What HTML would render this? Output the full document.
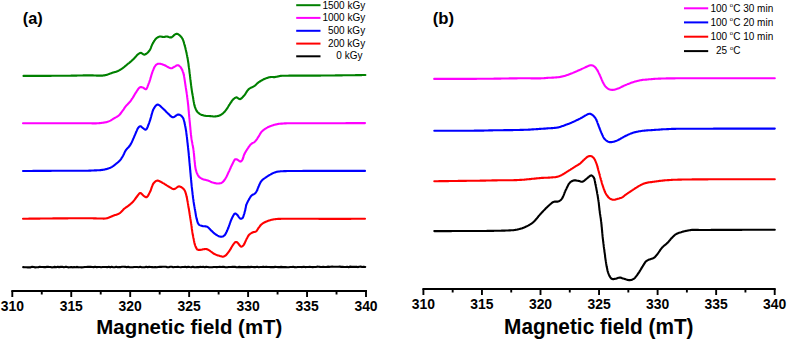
<!DOCTYPE html>
<html><head><meta charset="utf-8"><style>
html,body{margin:0;padding:0;background:#fff;}
body{width:787px;height:340px;overflow:hidden;}
svg{display:block;}
text{font-family:"Liberation Sans",sans-serif;}
</style></head><body>
<svg width="787" height="340" viewBox="0 0 787 340">
<rect width="787" height="340" fill="#fff"/>
<g fill="none" stroke-linejoin="round" stroke-linecap="round" stroke-width="2.1">
<path stroke="#000" d="M23.2,267.17 L24.7,267.24 L26.2,267.28 L27.7,267.36 L29.2,267.24 L30.7,267.35 L32.2,266.81 L33.7,267.07 L35.2,267.36 L36.7,267.18 L38.2,267.33 L39.7,266.86 L41.2,267.07 L42.7,266.94 L44.2,267.11 L45.7,267.13 L47.2,266.79 L48.7,266.92 L50.2,266.95 L51.7,267.33 L53.2,267.24 L54.7,266.88 L56.2,267.26 L57.7,266.86 L59.2,267.15 L60.7,266.85 L62.2,266.78 L63.7,267.30 L65.2,266.90 L66.7,266.90 L68.2,267.36 L69.7,267.30 L71.2,266.95 L72.7,267.35 L74.2,267.09 L75.7,267.18 L77.2,266.89 L78.7,267.33 L80.2,267.18 L81.7,267.35 L83.2,267.30 L84.7,266.94 L86.2,266.98 L87.7,266.86 L89.2,266.85 L90.7,266.80 L92.2,266.94 L93.7,267.12 L95.2,266.76 L96.7,267.16 L98.2,266.96 L99.7,266.94 L101.2,267.25 L102.7,267.04 L104.2,266.94 L105.7,267.04 L107.2,267.17 L108.7,266.78 L110.2,267.33 L111.7,266.76 L113.2,267.20 L114.7,267.25 L116.2,266.76 L117.7,267.22 L119.2,266.96 L120.7,267.09 L122.2,266.75 L123.7,266.77 L125.2,266.85 L126.7,267.31 L128.2,266.86 L129.7,267.19 L131.2,267.29 L132.7,267.30 L134.2,266.94 L135.7,266.95 L137.2,267.05 L138.7,267.20 L140.2,266.80 L141.7,267.18 L143.2,267.21 L144.7,267.24 L146.2,266.75 L147.7,267.29 L149.2,266.78 L150.7,266.93 L152.2,267.09 L153.7,267.27 L155.2,266.93 L156.7,267.28 L158.2,267.05 L159.7,266.91 L161.2,266.91 L162.7,266.82 L164.2,266.76 L165.7,266.81 L167.2,267.13 L168.7,267.31 L170.2,266.81 L171.7,266.74 L173.2,267.30 L174.7,267.03 L176.2,266.95 L177.7,266.85 L179.2,267.07 L180.7,267.20 L182.2,266.98 L183.7,266.96 L185.2,266.74 L186.7,267.25 L188.2,266.72 L189.7,267.00 L191.2,267.20 L192.7,266.78 L194.2,267.14 L195.7,267.27 L197.2,267.08 L198.7,267.17 L200.2,266.76 L201.7,266.96 L203.2,266.78 L204.7,267.20 L206.2,266.87 L207.7,266.96 L209.2,267.29 L210.7,267.20 L212.2,267.28 L213.7,266.96 L215.2,266.98 L216.7,267.12 L218.2,266.97 L219.7,266.86 L221.2,266.93 L222.7,266.77 L224.2,266.91 L225.7,267.27 L227.2,267.26 L228.7,267.06 L230.2,266.98 L231.7,266.88 L233.2,266.73 L234.7,266.84 L236.2,267.14 L237.7,267.20 L239.2,266.89 L240.7,267.14 L242.2,267.14 L243.7,267.09 L245.2,267.07 L246.7,267.13 L248.2,266.89 L249.7,267.09 L251.2,266.84 L252.7,266.96 L254.2,267.13 L255.7,267.08 L257.2,266.84 L258.7,267.23 L260.2,267.05 L261.7,267.01 L263.2,266.67 L264.7,266.99 L266.2,266.81 L267.7,267.06 L269.2,266.93 L270.7,267.15 L272.2,267.04 L273.7,267.13 L275.2,266.86 L276.7,267.04 L278.2,267.09 L279.7,267.15 L281.2,266.86 L282.7,267.15 L284.2,267.17 L285.7,267.06 L287.2,267.23 L288.7,267.22 L290.2,266.95 L291.7,266.96 L293.2,266.74 L294.7,267.14 L296.2,267.20 L297.7,266.93 L299.2,267.05 L300.7,267.07 L302.2,267.08 L303.7,266.74 L305.2,267.10 L306.7,266.98 L308.2,267.03 L309.7,266.89 L311.2,267.01 L312.7,267.10 L314.2,267.01 L315.7,267.06 L317.2,266.64 L318.7,266.72 L320.2,266.89 L321.7,267.02 L323.2,266.76 L324.7,267.04 L326.2,267.00 L327.7,266.65 L329.2,266.90 L330.7,266.76 L332.2,266.65 L333.7,266.70 L335.2,266.81 L336.7,266.73 L338.2,266.73 L339.7,266.64 L341.2,266.89 L342.7,266.84 L344.2,266.98 L345.7,266.97 L347.2,266.75 L348.7,267.15 L350.2,266.61 L351.7,266.85 L353.2,266.77 L354.7,266.85 L356.2,266.67 L357.7,267.10 L359.2,266.83 L360.7,266.62 L362.2,266.97 L363.7,266.66 L365.2,266.93"/>
<path stroke="#ff0000" d="M23.0,218.7 L23.7,218.7 L24.3,218.7 L25.0,218.7 L25.7,218.7 L26.3,218.7 L27.0,218.7 L27.7,218.7 L28.3,218.7 L29.0,218.6 L29.7,218.6 L30.3,218.6 L31.0,218.6 L31.7,218.6 L32.3,218.6 L33.0,218.6 L33.7,218.6 L34.4,218.6 L35.0,218.6 L35.7,218.6 L36.4,218.6 L37.0,218.6 L37.7,218.6 L38.4,218.6 L39.1,218.6 L39.7,218.6 L40.4,218.5 L41.1,218.5 L41.7,218.5 L42.4,218.5 L43.1,218.5 L43.7,218.5 L44.4,218.5 L45.1,218.5 L45.7,218.5 L46.4,218.5 L47.1,218.5 L47.7,218.5 L48.4,218.5 L49.1,218.5 L49.7,218.5 L50.4,218.5 L51.0,218.5 L51.7,218.5 L52.3,218.5 L53.0,218.4 L53.6,218.4 L54.3,218.4 L54.9,218.4 L55.6,218.4 L56.2,218.4 L56.8,218.4 L57.5,218.4 L58.1,218.4 L58.7,218.4 L59.4,218.4 L60.0,218.4 L60.7,218.4 L61.4,218.4 L62.1,218.4 L62.8,218.4 L63.5,218.4 L64.2,218.4 L64.9,218.4 L65.6,218.4 L66.3,218.4 L67.0,218.4 L67.7,218.4 L68.5,218.3 L69.2,218.3 L69.9,218.3 L70.6,218.3 L71.3,218.3 L72.0,218.3 L72.7,218.3 L73.4,218.3 L74.1,218.3 L74.8,218.3 L75.5,218.3 L76.2,218.3 L76.9,218.3 L77.6,218.3 L78.2,218.3 L78.9,218.3 L79.6,218.3 L80.2,218.3 L80.9,218.3 L81.5,218.3 L82.2,218.3 L82.8,218.3 L83.4,218.3 L84.0,218.3 L84.6,218.3 L85.2,218.3 L85.8,218.3 L86.3,218.3 L86.9,218.3 L87.4,218.3 L88.0,218.3 L88.5,218.3 L89.0,218.3 L89.5,218.3 L90.0,218.3 L90.8,218.3 L91.5,218.3 L92.2,218.3 L92.9,218.3 L93.6,218.4 L94.2,218.4 L94.9,218.4 L95.5,218.4 L96.1,218.4 L96.6,218.5 L97.2,218.5 L97.8,218.5 L98.3,218.5 L98.9,218.5 L99.4,218.5 L100.0,218.5 L100.7,218.5 L101.4,218.5 L102.1,218.5 L102.7,218.5 L103.4,218.6 L104.0,218.6 L104.7,218.5 L105.3,218.5 L106.0,218.4 L106.6,218.3 L107.2,218.2 L107.8,218.0 L108.4,217.8 L109.0,217.6 L109.6,217.3 L110.2,217.1 L110.8,216.8 L111.4,216.6 L112.0,216.3 L112.6,216.0 L113.2,215.8 L113.8,215.6 L114.4,215.3 L115.0,215.1 L115.7,214.9 L116.3,214.7 L116.9,214.5 L117.5,214.2 L118.1,214.0 L118.7,213.7 L119.3,213.4 L119.8,213.1 L120.3,212.7 L120.8,212.3 L121.3,211.8 L121.8,211.3 L122.3,210.8 L122.7,210.3 L123.1,209.8 L123.6,209.4 L124.0,208.9 L124.5,208.5 L125.0,208.1 L125.5,207.8 L126.0,207.4 L126.4,207.1 L126.9,206.8 L127.4,206.5 L127.9,206.2 L128.4,205.8 L128.9,205.4 L129.3,205.0 L129.8,204.7 L130.3,204.2 L130.8,203.8 L131.3,203.4 L131.7,203.0 L132.2,202.5 L132.7,202.1 L133.1,201.6 L133.5,201.1 L133.9,200.6 L134.3,200.1 L134.7,199.6 L135.1,199.0 L135.5,198.5 L135.9,198.0 L136.2,197.5 L136.6,197.0 L137.0,196.5 L137.4,196.0 L137.8,195.4 L138.2,194.8 L138.6,194.3 L139.0,193.8 L139.5,193.4 L139.9,193.1 L140.3,193.0 L140.8,193.1 L141.3,193.4 L141.8,193.9 L142.3,194.4 L142.8,195.0 L143.3,195.5 L143.8,195.9 L144.4,196.3 L144.9,196.7 L145.4,197.0 L146.0,197.2 L146.5,197.2 L146.9,197.0 L147.2,196.7 L147.6,196.3 L148.0,195.8 L148.3,195.2 L148.7,194.6 L149.0,193.9 L149.3,193.2 L149.7,192.5 L150.0,191.9 L150.3,191.4 L150.5,190.8 L150.8,190.2 L151.0,189.5 L151.2,188.9 L151.5,188.2 L151.7,187.5 L151.9,186.9 L152.2,186.2 L152.4,185.6 L152.7,185.0 L152.9,184.4 L153.2,183.9 L153.5,183.4 L153.8,183.0 L154.3,182.5 L154.7,182.0 L155.2,181.6 L155.8,181.2 L156.3,180.9 L156.8,180.7 L157.4,180.6 L157.9,180.6 L158.4,180.7 L159.0,180.9 L159.6,181.2 L160.1,181.5 L160.7,181.8 L161.3,182.1 L161.9,182.5 L162.5,182.8 L163.0,183.1 L163.6,183.4 L164.1,183.7 L164.7,184.1 L165.2,184.4 L165.8,184.8 L166.4,185.1 L166.9,185.5 L167.5,185.9 L168.1,186.2 L168.6,186.5 L169.1,186.8 L169.6,187.1 L170.2,187.5 L170.9,187.9 L171.4,188.2 L172.0,188.6 L172.6,188.9 L173.2,189.0 L173.8,189.1 L174.4,189.0 L175.0,188.7 L175.6,188.4 L176.2,188.0 L176.8,187.5 L177.4,187.1 L178.0,186.7 L178.5,186.5 L179.1,186.4 L179.7,186.5 L180.3,186.7 L181.0,187.0 L181.6,187.3 L182.1,187.7 L182.6,188.1 L183.1,188.5 L183.5,188.9 L183.9,189.3 L184.2,189.7 L184.5,190.2 L184.8,190.7 L185.0,191.2 L185.2,191.7 L185.4,192.2 L185.6,192.8 L185.8,193.4 L186.0,194.0 L186.1,194.6 L186.3,195.2 L186.4,195.9 L186.6,196.5 L186.7,197.1 L186.9,197.7 L187.0,198.3 L187.1,198.9 L187.2,199.5 L187.3,200.1 L187.4,200.8 L187.6,201.4 L187.7,202.0 L187.8,202.7 L187.9,203.3 L188.0,204.0 L188.1,204.6 L188.2,205.2 L188.3,205.9 L188.4,206.5 L188.5,207.1 L188.6,207.8 L188.8,208.4 L188.9,209.1 L189.0,209.8 L189.1,210.4 L189.2,211.1 L189.3,211.7 L189.4,212.4 L189.5,213.1 L189.6,213.7 L189.7,214.3 L189.8,215.0 L189.9,215.6 L190.0,216.2 L190.1,216.9 L190.2,217.5 L190.3,218.2 L190.4,218.8 L190.5,219.4 L190.6,220.1 L190.7,220.7 L190.8,221.3 L190.9,221.9 L191.0,222.6 L191.1,223.2 L191.2,223.9 L191.3,224.5 L191.4,225.2 L191.5,225.8 L191.6,226.5 L191.7,227.2 L191.7,227.8 L191.8,228.5 L191.9,229.1 L192.0,229.8 L192.1,230.4 L192.2,231.0 L192.3,231.7 L192.4,232.3 L192.5,233.0 L192.6,233.6 L192.7,234.3 L192.8,234.9 L193.0,235.5 L193.1,236.2 L193.2,236.8 L193.3,237.4 L193.4,238.0 L193.6,238.6 L193.7,239.2 L193.8,239.8 L193.9,240.5 L194.1,241.1 L194.2,241.8 L194.3,242.5 L194.5,243.1 L194.6,243.7 L194.8,244.3 L195.0,244.9 L195.2,245.5 L195.4,246.1 L195.7,246.7 L195.9,247.3 L196.2,247.9 L196.5,248.4 L196.8,248.9 L197.1,249.3 L197.5,249.6 L198.0,249.8 L198.6,249.9 L199.1,250.0 L199.7,249.9 L200.3,249.9 L200.9,249.8 L201.4,249.7 L202.0,249.6 L202.6,249.4 L203.2,249.3 L203.8,249.2 L204.5,249.1 L205.2,249.0 L205.8,249.0 L206.5,249.1 L207.1,249.2 L207.6,249.5 L208.2,249.7 L208.7,250.0 L209.3,250.4 L209.8,250.7 L210.3,251.1 L210.8,251.5 L211.4,251.9 L211.9,252.3 L212.4,252.7 L213.0,253.1 L213.5,253.5 L214.0,253.8 L214.6,254.1 L215.1,254.3 L215.7,254.6 L216.2,254.8 L216.8,255.0 L217.3,255.2 L217.9,255.4 L218.6,255.6 L219.2,255.8 L219.8,256.0 L220.4,256.2 L221.0,256.3 L221.6,256.4 L222.2,256.6 L222.8,256.7 L223.4,256.6 L224.0,256.4 L224.5,256.1 L225.1,255.8 L225.7,255.4 L226.2,254.9 L226.6,254.5 L227.0,254.1 L227.3,253.7 L227.7,253.2 L228.1,252.7 L228.5,252.2 L228.8,251.7 L229.2,251.2 L229.5,250.7 L229.8,250.2 L230.2,249.7 L230.5,249.1 L230.8,248.6 L231.1,248.1 L231.4,247.5 L231.7,247.0 L232.0,246.5 L232.3,246.0 L232.6,245.5 L233.0,244.9 L233.4,244.3 L233.7,243.8 L234.1,243.3 L234.5,242.8 L234.8,242.4 L235.2,242.2 L235.8,242.0 L236.4,242.0 L237.0,242.2 L237.4,242.5 L237.8,242.9 L238.2,243.4 L238.6,244.0 L239.0,244.5 L239.4,245.0 L239.9,245.5 L240.3,246.1 L240.8,246.5 L241.3,246.7 L241.7,246.6 L242.2,246.4 L242.7,246.0 L243.2,245.5 L243.6,245.0 L243.9,244.6 L244.2,244.1 L244.5,243.6 L244.8,243.0 L245.0,242.4 L245.3,241.8 L245.6,241.2 L245.8,240.5 L246.1,240.0 L246.4,239.4 L246.7,238.8 L247.0,238.3 L247.3,237.7 L247.6,237.1 L247.9,236.5 L248.2,236.0 L248.6,235.5 L248.9,235.0 L249.3,234.6 L249.8,234.2 L250.3,233.8 L250.8,233.4 L251.4,233.1 L251.9,232.8 L252.5,232.5 L253.0,232.3 L253.6,232.1 L254.2,232.0 L254.9,231.9 L255.4,231.7 L256.0,231.4 L256.4,231.1 L256.8,230.7 L257.1,230.2 L257.4,229.7 L257.8,229.1 L258.1,228.6 L258.4,228.1 L258.8,227.6 L259.2,227.1 L259.6,226.6 L260.0,226.0 L260.4,225.5 L260.8,225.0 L261.3,224.5 L261.8,224.1 L262.2,223.8 L262.7,223.4 L263.2,223.1 L263.7,222.8 L264.2,222.5 L264.8,222.3 L265.3,222.0 L265.9,221.7 L266.5,221.5 L267.1,221.3 L267.7,221.0 L268.3,220.8 L268.9,220.6 L269.5,220.4 L270.1,220.2 L270.8,220.0 L271.5,219.8 L272.1,219.7 L272.8,219.5 L273.5,219.4 L274.1,219.3 L274.6,219.2 L275.2,219.2 L275.7,219.1 L276.3,219.0 L276.8,219.0 L277.4,219.0 L277.9,218.9 L278.5,218.9 L279.2,218.9 L279.8,218.9 L280.5,218.9 L281.3,218.8 L282.1,218.8 L282.9,218.8 L283.3,218.8 L283.8,218.8 L284.2,218.8 L284.7,218.8 L285.1,218.7 L285.6,218.7 L286.1,218.7 L286.6,218.7 L287.2,218.7 L287.7,218.7 L288.3,218.7 L288.8,218.7 L289.4,218.7 L290.0,218.7 L290.6,218.7 L291.2,218.7 L291.8,218.7 L292.5,218.7 L293.1,218.7 L293.7,218.7 L294.4,218.7 L295.1,218.7 L295.7,218.7 L296.4,218.7 L297.1,218.7 L297.8,218.7 L298.5,218.7 L299.2,218.7 L299.9,218.7 L300.6,218.7 L301.3,218.7 L302.1,218.7 L302.8,218.7 L303.5,218.7 L304.3,218.7 L305.0,218.7 L305.7,218.7 L306.5,218.8 L307.2,218.8 L308.0,218.8 L308.7,218.8 L309.5,218.8 L310.2,218.8 L311.0,218.8 L311.7,218.8 L312.5,218.8 L313.2,218.8 L314.0,218.8 L314.7,218.8 L315.5,218.8 L316.2,218.8 L317.0,218.8 L317.7,218.8 L318.4,218.8 L319.1,218.9 L319.9,218.9 L320.6,218.9 L321.3,218.9 L322.0,218.9 L322.7,218.9 L323.4,218.9 L324.1,218.9 L324.8,218.9 L325.5,218.9 L326.1,218.9 L326.8,218.9 L327.5,218.9 L328.1,218.9 L328.8,218.9 L329.4,218.9 L330.0,218.9 L330.7,218.9 L331.4,218.9 L332.1,218.9 L332.8,218.9 L333.5,218.9 L334.2,218.9 L334.9,218.9 L335.6,218.9 L336.2,218.9 L336.9,218.9 L337.6,218.9 L338.3,218.9 L338.9,218.9 L339.6,218.9 L340.3,218.9 L340.9,218.9 L341.6,218.9 L342.3,218.9 L342.9,218.9 L343.6,218.9 L344.2,218.9 L344.9,218.9 L345.5,218.9 L346.2,218.9 L346.9,218.9 L347.5,218.9 L348.1,218.9 L348.8,218.9 L349.4,218.9 L350.1,218.9 L350.7,218.9 L351.4,218.8 L352.0,218.8 L352.7,218.8 L353.3,218.8 L354.0,218.8 L354.6,218.8 L355.2,218.8 L355.9,218.8 L356.5,218.8 L357.2,218.8 L357.8,218.8 L358.5,218.8 L359.1,218.8 L359.8,218.8 L360.4,218.8 L361.1,218.8 L361.7,218.8 L362.4,218.8 L363.0,218.8 L363.7,218.8 L364.3,218.8 L365.0,218.8"/>
<path stroke="#0000ff" d="M23.0,171.0 L23.7,171.0 L24.3,171.0 L25.0,171.0 L25.7,171.0 L26.3,171.0 L27.0,171.0 L27.7,171.0 L28.3,171.0 L29.0,171.0 L29.7,171.0 L30.3,171.0 L31.0,171.0 L31.7,171.0 L32.3,171.0 L33.0,170.9 L33.7,170.9 L34.4,170.9 L35.0,170.9 L35.7,170.9 L36.4,170.9 L37.0,170.9 L37.7,170.9 L38.4,170.9 L39.1,170.9 L39.7,170.9 L40.4,170.9 L41.1,170.9 L41.7,170.9 L42.4,170.9 L43.1,170.9 L43.7,170.9 L44.4,170.9 L45.1,170.9 L45.7,170.9 L46.4,170.9 L47.1,170.9 L47.7,170.9 L48.4,170.9 L49.1,170.9 L49.7,170.9 L50.4,170.9 L51.0,170.9 L51.7,170.8 L52.3,170.8 L53.0,170.8 L53.6,170.8 L54.3,170.8 L54.9,170.8 L55.6,170.8 L56.2,170.8 L56.8,170.8 L57.5,170.8 L58.1,170.8 L58.7,170.8 L59.4,170.8 L60.0,170.8 L60.7,170.8 L61.4,170.8 L62.1,170.8 L62.8,170.8 L63.5,170.8 L64.2,170.8 L64.8,170.8 L65.5,170.8 L66.2,170.8 L66.9,170.8 L67.6,170.8 L68.3,170.8 L69.0,170.8 L69.7,170.8 L70.4,170.8 L71.1,170.8 L71.8,170.8 L72.5,170.8 L73.2,170.8 L73.9,170.8 L74.5,170.8 L75.2,170.8 L75.9,170.8 L76.6,170.8 L77.2,170.8 L77.9,170.8 L78.6,170.8 L79.2,170.8 L79.9,170.8 L80.5,170.8 L81.2,170.8 L81.8,170.8 L82.4,170.8 L83.1,170.8 L83.7,170.8 L84.3,170.7 L84.9,170.7 L85.5,170.7 L86.1,170.7 L86.7,170.7 L87.2,170.7 L87.8,170.7 L88.4,170.7 L88.9,170.6 L89.5,170.6 L90.0,170.6 L90.8,170.6 L91.5,170.5 L92.2,170.5 L93.0,170.5 L93.7,170.5 L94.4,170.4 L95.1,170.4 L95.7,170.4 L96.4,170.4 L97.1,170.3 L97.7,170.3 L98.3,170.3 L99.0,170.2 L99.6,170.2 L100.2,170.1 L100.8,170.1 L101.4,170.0 L101.9,169.9 L102.5,169.9 L103.0,169.8 L103.6,169.7 L104.1,169.6 L104.8,169.5 L105.5,169.3 L106.2,169.1 L106.9,169.0 L107.5,168.8 L108.1,168.6 L108.7,168.4 L109.3,168.1 L109.9,167.9 L110.4,167.7 L111.0,167.4 L111.6,167.1 L112.1,166.8 L112.6,166.4 L113.2,166.1 L113.7,165.7 L114.1,165.4 L114.6,165.0 L115.1,164.6 L115.6,164.2 L116.1,163.8 L116.6,163.4 L117.1,163.0 L117.7,162.5 L118.2,162.1 L118.6,161.7 L119.1,161.2 L119.6,160.8 L120.0,160.3 L120.4,159.8 L120.8,159.3 L121.2,158.8 L121.5,158.2 L121.9,157.7 L122.2,157.1 L122.6,156.6 L122.9,156.0 L123.2,155.5 L123.5,154.9 L123.8,154.3 L124.1,153.7 L124.3,153.1 L124.6,152.5 L124.9,151.9 L125.2,151.3 L125.5,150.8 L125.9,150.2 L126.3,149.7 L126.6,149.2 L127.0,148.8 L127.4,148.3 L127.9,147.9 L128.3,147.4 L128.7,147.0 L129.1,146.5 L129.5,146.0 L129.9,145.5 L130.3,144.9 L130.6,144.4 L130.9,143.9 L131.2,143.3 L131.5,142.8 L131.8,142.2 L132.0,141.6 L132.3,141.0 L132.6,140.3 L132.9,139.7 L133.1,139.1 L133.4,138.5 L133.7,137.9 L133.9,137.3 L134.2,136.7 L134.4,136.1 L134.7,135.5 L135.0,134.9 L135.2,134.3 L135.5,133.6 L135.8,133.0 L136.0,132.3 L136.3,131.7 L136.6,131.1 L136.8,130.5 L137.1,129.9 L137.3,129.3 L137.6,128.8 L137.9,128.4 L138.1,128.0 L138.4,127.6 L138.9,127.0 L139.4,126.6 L139.9,126.3 L140.4,126.2 L140.9,126.3 L141.4,126.7 L141.9,127.2 L142.5,127.7 L143.0,128.1 L143.6,128.5 L144.1,129.0 L144.7,129.4 L145.3,129.6 L145.8,129.6 L146.1,129.4 L146.4,129.2 L146.7,128.8 L147.0,128.4 L147.2,127.8 L147.5,127.3 L147.8,126.6 L148.0,125.9 L148.3,125.2 L148.6,124.5 L148.8,123.8 L149.1,123.1 L149.3,122.3 L149.6,121.7 L149.8,121.0 L150.0,120.4 L150.2,119.8 L150.4,119.2 L150.6,118.5 L150.8,117.8 L151.0,117.1 L151.2,116.5 L151.3,115.8 L151.5,115.1 L151.7,114.4 L151.9,113.7 L152.1,113.0 L152.3,112.4 L152.5,111.7 L152.7,111.1 L152.9,110.5 L153.1,110.0 L153.3,109.5 L153.6,109.0 L154.0,108.3 L154.4,107.7 L154.8,107.0 L155.2,106.4 L155.7,105.8 L156.1,105.4 L156.6,105.0 L157.1,104.7 L157.6,104.6 L158.1,104.6 L158.6,104.8 L159.1,105.1 L159.7,105.5 L160.2,105.9 L160.8,106.5 L161.3,107.0 L161.8,107.5 L162.4,108.0 L162.9,108.5 L163.4,108.9 L163.9,109.4 L164.3,109.8 L164.8,110.3 L165.3,110.8 L165.8,111.3 L166.2,111.8 L166.7,112.3 L167.2,112.7 L167.6,113.2 L168.1,113.6 L168.6,114.1 L169.1,114.6 L169.6,115.1 L170.1,115.6 L170.7,116.1 L171.2,116.5 L171.7,116.8 L172.2,117.1 L172.8,117.2 L173.3,117.2 L173.9,117.0 L174.5,116.7 L175.1,116.3 L175.7,115.9 L176.3,115.4 L176.8,115.1 L177.4,114.7 L178.0,114.5 L178.5,114.5 L179.1,114.6 L179.6,114.8 L180.2,115.1 L180.7,115.4 L181.2,115.8 L181.7,116.3 L182.2,116.8 L182.6,117.3 L182.9,117.7 L183.2,118.2 L183.4,118.7 L183.6,119.3 L183.8,119.8 L184.0,120.4 L184.1,121.0 L184.3,121.7 L184.5,122.4 L184.6,123.0 L184.7,123.8 L184.9,124.5 L185.0,125.2 L185.2,126.0 L185.3,126.5 L185.4,127.0 L185.5,127.6 L185.6,128.1 L185.7,128.7 L185.8,129.3 L185.9,129.9 L186.0,130.5 L186.1,131.1 L186.2,131.7 L186.3,132.4 L186.4,133.0 L186.4,133.7 L186.5,134.3 L186.6,135.0 L186.7,135.7 L186.8,136.4 L186.9,137.0 L187.0,137.7 L187.0,138.4 L187.1,139.1 L187.2,139.8 L187.3,140.5 L187.3,141.2 L187.4,141.9 L187.5,142.6 L187.6,143.3 L187.7,144.0 L187.7,144.7 L187.8,145.3 L187.9,146.0 L188.0,146.7 L188.0,147.3 L188.1,148.0 L188.2,148.6 L188.2,149.3 L188.3,149.9 L188.4,150.6 L188.5,151.3 L188.5,151.9 L188.6,152.6 L188.7,153.2 L188.7,153.9 L188.8,154.5 L188.8,155.2 L188.9,155.9 L189.0,156.5 L189.0,157.2 L189.1,157.8 L189.2,158.5 L189.2,159.1 L189.3,159.8 L189.3,160.4 L189.4,161.1 L189.4,161.7 L189.5,162.4 L189.6,163.0 L189.6,163.7 L189.7,164.3 L189.7,165.0 L189.8,165.6 L189.9,166.2 L189.9,166.9 L190.0,167.5 L190.0,168.1 L190.1,168.8 L190.1,169.4 L190.2,170.0 L190.3,170.7 L190.3,171.3 L190.4,172.0 L190.4,172.7 L190.5,173.3 L190.6,174.0 L190.6,174.7 L190.7,175.3 L190.7,176.0 L190.8,176.6 L190.9,177.3 L190.9,177.9 L191.0,178.6 L191.0,179.2 L191.1,179.9 L191.2,180.5 L191.2,181.1 L191.3,181.8 L191.3,182.4 L191.4,183.0 L191.5,183.7 L191.5,184.3 L191.6,184.9 L191.6,185.5 L191.7,186.2 L191.8,186.8 L191.8,187.4 L191.9,188.0 L192.0,188.7 L192.1,189.4 L192.1,190.1 L192.2,190.7 L192.3,191.4 L192.4,192.1 L192.5,192.8 L192.5,193.5 L192.6,194.2 L192.7,194.8 L192.8,195.5 L192.9,196.2 L192.9,196.8 L193.0,197.5 L193.1,198.2 L193.2,198.8 L193.3,199.4 L193.4,200.0 L193.5,200.7 L193.5,201.3 L193.6,201.9 L193.7,202.4 L193.8,203.0 L193.9,203.7 L194.0,204.4 L194.1,205.1 L194.3,205.8 L194.4,206.5 L194.5,207.1 L194.6,207.7 L194.7,208.4 L194.8,209.0 L194.9,209.6 L195.1,210.2 L195.2,210.9 L195.3,211.5 L195.4,212.1 L195.5,212.8 L195.6,213.4 L195.7,214.0 L195.8,214.6 L195.9,215.3 L196.0,215.9 L196.1,216.5 L196.3,217.1 L196.4,217.7 L196.5,218.3 L196.7,218.9 L196.8,219.4 L197.0,220.0 L197.2,220.7 L197.3,221.3 L197.5,221.9 L197.7,222.5 L197.9,223.0 L198.2,223.5 L198.5,224.0 L198.8,224.4 L199.2,224.8 L199.7,225.1 L200.3,225.4 L200.8,225.6 L201.4,225.8 L202.0,225.9 L202.6,226.1 L203.2,226.2 L203.9,226.3 L204.6,226.3 L205.3,226.4 L205.9,226.4 L206.6,226.6 L207.2,226.8 L207.7,227.1 L208.2,227.4 L208.6,227.8 L209.0,228.2 L209.5,228.7 L209.9,229.1 L210.3,229.6 L210.7,230.1 L211.2,230.5 L211.6,230.9 L212.1,231.3 L212.5,231.7 L213.0,232.2 L213.4,232.6 L213.9,233.0 L214.3,233.4 L214.8,233.8 L215.3,234.2 L215.8,234.5 L216.4,234.8 L216.9,235.2 L217.6,235.6 L218.2,235.9 L218.8,236.2 L219.4,236.4 L220.0,236.6 L220.6,236.8 L221.1,236.8 L221.7,236.8 L222.3,236.6 L222.8,236.4 L223.4,236.2 L223.9,235.8 L224.4,235.4 L224.8,235.0 L225.1,234.6 L225.4,234.2 L225.7,233.6 L226.0,233.1 L226.3,232.5 L226.6,231.9 L226.9,231.3 L227.1,230.7 L227.4,230.0 L227.7,229.4 L227.9,228.9 L228.2,228.3 L228.4,227.7 L228.6,227.0 L228.9,226.4 L229.1,225.7 L229.3,225.1 L229.6,224.4 L229.8,223.7 L230.0,223.0 L230.3,222.4 L230.5,221.7 L230.7,221.1 L231.0,220.5 L231.2,219.9 L231.5,219.3 L231.7,218.8 L232.0,218.1 L232.3,217.5 L232.7,216.8 L233.0,216.1 L233.3,215.5 L233.7,214.9 L234.0,214.4 L234.3,214.0 L234.7,213.7 L235.0,213.5 L235.5,213.5 L236.0,213.8 L236.5,214.2 L237.0,214.6 L237.4,215.0 L237.8,215.5 L238.2,216.1 L238.6,216.8 L239.1,217.4 L239.5,217.9 L239.9,218.4 L240.3,218.6 L240.8,218.7 L241.3,218.7 L241.8,218.5 L242.3,218.2 L242.6,217.9 L242.9,217.5 L243.1,217.0 L243.4,216.4 L243.6,215.7 L243.8,215.0 L244.0,214.3 L244.3,213.6 L244.5,212.9 L244.6,212.2 L244.8,211.5 L245.0,210.9 L245.2,210.3 L245.3,209.7 L245.4,209.1 L245.5,208.4 L245.7,207.8 L245.8,207.3 L245.9,206.7 L246.0,206.1 L246.1,205.5 L246.3,205.0 L246.5,204.4 L246.8,203.7 L247.0,203.2 L247.3,202.6 L247.6,202.0 L247.9,201.4 L248.2,200.8 L248.5,200.3 L248.8,199.7 L249.1,199.1 L249.4,198.6 L249.8,198.0 L250.1,197.4 L250.5,196.9 L250.8,196.4 L251.2,195.9 L251.6,195.5 L252.1,195.1 L252.7,194.7 L253.3,194.4 L253.9,194.2 L254.4,193.9 L254.9,193.5 L255.3,193.1 L255.7,192.7 L256.0,192.2 L256.3,191.8 L256.6,191.3 L256.9,190.8 L257.2,190.3 L257.4,189.8 L257.5,189.2 L257.7,188.7 L257.9,188.1 L258.2,187.5 L258.4,187.0 L258.6,186.5 L258.9,185.9 L259.1,185.4 L259.4,184.8 L259.6,184.2 L259.9,183.6 L260.2,183.0 L260.5,182.4 L260.8,181.9 L261.2,181.4 L261.5,180.9 L261.9,180.4 L262.4,179.9 L262.9,179.5 L263.4,179.1 L263.9,178.7 L264.4,178.4 L265.0,178.0 L265.5,177.6 L266.0,177.3 L266.5,176.9 L267.0,176.6 L267.5,176.2 L268.1,175.9 L268.6,175.5 L269.2,175.2 L269.7,174.9 L270.3,174.6 L270.8,174.3 L271.4,174.0 L271.9,173.7 L272.5,173.4 L273.1,173.1 L273.7,172.9 L274.3,172.6 L274.9,172.4 L275.5,172.2 L276.1,172.0 L276.7,171.8 L277.3,171.7 L277.9,171.6 L278.6,171.5 L279.2,171.5 L279.9,171.4 L280.5,171.3 L281.2,171.3 L282.0,171.2 L282.7,171.2 L283.2,171.2 L283.8,171.1 L284.4,171.1 L284.9,171.1 L285.5,171.1 L286.1,171.1 L286.7,171.0 L287.3,171.0 L287.9,171.0 L288.5,171.0 L289.2,171.0 L289.8,171.0 L290.5,171.0 L291.2,171.0 L291.9,171.0 L292.7,171.0 L293.4,171.0 L294.2,171.0 L295.0,171.0 L295.5,171.0 L296.0,171.0 L296.5,171.0 L297.1,171.0 L297.6,171.0 L298.2,171.0 L298.7,171.0 L299.3,171.0 L299.9,171.0 L300.5,171.0 L301.1,171.0 L301.7,171.0 L302.3,171.0 L303.0,170.9 L303.6,170.9 L304.2,170.9 L304.9,170.9 L305.6,170.9 L306.2,170.9 L306.9,170.9 L307.6,170.9 L308.3,170.9 L308.9,170.9 L309.6,170.9 L310.3,170.9 L311.0,170.9 L311.7,170.9 L312.4,170.9 L313.1,170.9 L313.9,170.9 L314.6,170.9 L315.3,170.9 L316.0,170.9 L316.7,170.9 L317.4,170.9 L318.1,170.9 L318.9,170.9 L319.6,170.9 L320.3,170.9 L321.0,170.9 L321.7,170.9 L322.4,170.9 L323.1,170.9 L323.8,170.9 L324.5,170.9 L325.2,170.9 L325.9,170.9 L326.6,170.9 L327.3,170.9 L328.0,170.9 L328.7,170.9 L329.3,170.9 L330.0,170.9 L330.7,170.9 L331.3,170.9 L332.0,170.9 L332.6,170.9 L333.3,170.9 L334.0,170.9 L334.6,170.9 L335.3,170.9 L335.9,170.9 L336.6,170.9 L337.3,170.9 L337.9,170.9 L338.6,170.9 L339.2,170.9 L339.9,170.9 L340.6,170.9 L341.2,170.9 L341.9,170.9 L342.5,170.9 L343.2,170.9 L343.9,170.9 L344.5,170.9 L345.2,170.9 L345.8,170.9 L346.5,170.9 L347.2,170.9 L347.8,170.9 L348.5,170.9 L349.2,170.9 L349.8,170.9 L350.5,170.9 L351.1,170.9 L351.8,170.9 L352.5,170.9 L353.1,170.9 L353.8,170.9 L354.4,170.9 L355.1,170.9 L355.8,170.9 L356.4,170.9 L357.1,170.9 L357.7,170.9 L358.4,170.9 L359.1,170.9 L359.7,170.9 L360.4,170.9 L361.0,170.9 L361.7,170.9 L362.4,170.9 L363.0,170.9 L363.7,170.9 L364.3,170.9 L365.0,170.9"/>
<path stroke="#ff00ff" d="M23.0,123.3 L23.7,123.3 L24.3,123.3 L25.0,123.3 L25.7,123.3 L26.3,123.3 L27.0,123.3 L27.7,123.3 L28.3,123.3 L29.0,123.3 L29.7,123.3 L30.3,123.3 L31.0,123.3 L31.7,123.3 L32.3,123.3 L33.0,123.3 L33.7,123.3 L34.4,123.3 L35.0,123.3 L35.7,123.3 L36.4,123.3 L37.0,123.3 L37.7,123.3 L38.4,123.2 L39.1,123.2 L39.7,123.2 L40.4,123.2 L41.1,123.2 L41.7,123.2 L42.4,123.2 L43.1,123.2 L43.7,123.2 L44.4,123.2 L45.1,123.2 L45.7,123.2 L46.4,123.2 L47.1,123.2 L47.7,123.2 L48.4,123.2 L49.1,123.2 L49.7,123.2 L50.4,123.2 L51.0,123.2 L51.7,123.2 L52.3,123.2 L53.0,123.2 L53.6,123.2 L54.3,123.2 L54.9,123.2 L55.6,123.2 L56.2,123.2 L56.8,123.2 L57.5,123.2 L58.1,123.2 L58.7,123.2 L59.4,123.2 L60.0,123.2 L60.7,123.2 L61.4,123.2 L62.1,123.2 L62.8,123.2 L63.5,123.2 L64.3,123.2 L65.0,123.2 L65.7,123.2 L66.5,123.2 L67.2,123.2 L67.9,123.2 L68.7,123.2 L69.4,123.2 L70.2,123.2 L70.9,123.2 L71.7,123.2 L72.4,123.2 L73.1,123.2 L73.9,123.2 L74.6,123.2 L75.3,123.2 L76.1,123.2 L76.8,123.2 L77.5,123.2 L78.2,123.2 L78.9,123.2 L79.6,123.2 L80.2,123.2 L80.9,123.2 L81.6,123.2 L82.2,123.2 L82.8,123.2 L83.4,123.3 L84.0,123.3 L84.6,123.3 L85.2,123.3 L85.8,123.3 L86.3,123.3 L86.8,123.3 L87.4,123.3 L87.8,123.3 L88.3,123.3 L88.8,123.3 L89.2,123.3 L89.6,123.3 L90.0,123.3 L90.8,123.3 L91.5,123.3 L92.1,123.4 L92.7,123.4 L93.2,123.4 L93.8,123.4 L94.4,123.4 L95.0,123.4 L95.6,123.4 L96.2,123.4 L96.8,123.3 L97.4,123.3 L98.0,123.2 L98.7,123.2 L99.3,123.1 L100.0,123.1 L100.6,123.0 L101.2,123.0 L101.8,122.9 L102.4,122.8 L103.1,122.7 L103.7,122.6 L104.4,122.5 L105.0,122.4 L105.7,122.3 L106.3,122.2 L106.9,122.0 L107.6,121.8 L108.2,121.6 L108.7,121.4 L109.3,121.1 L109.8,120.9 L110.4,120.6 L110.9,120.3 L111.5,119.9 L112.0,119.6 L112.5,119.3 L113.1,118.9 L113.6,118.6 L114.1,118.3 L114.6,118.0 L115.2,117.7 L115.7,117.4 L116.3,117.1 L116.8,116.8 L117.4,116.4 L117.9,116.1 L118.4,115.8 L118.8,115.4 L119.3,115.0 L119.8,114.5 L120.2,114.0 L120.6,113.5 L121.0,113.0 L121.4,112.4 L121.8,111.9 L122.2,111.4 L122.5,110.8 L122.9,110.3 L123.3,109.8 L123.7,109.3 L124.0,108.8 L124.4,108.2 L124.7,107.7 L125.1,107.2 L125.5,106.7 L125.9,106.2 L126.3,105.7 L126.7,105.2 L127.2,104.8 L127.6,104.3 L128.1,103.8 L128.6,103.3 L129.0,102.8 L129.5,102.3 L129.9,101.8 L130.3,101.3 L130.7,100.8 L131.1,100.3 L131.4,99.7 L131.8,99.2 L132.2,98.7 L132.5,98.2 L132.8,97.6 L133.2,97.1 L133.5,96.6 L133.8,96.0 L134.2,95.5 L134.5,94.9 L134.8,94.3 L135.1,93.8 L135.5,93.2 L135.8,92.7 L136.2,92.1 L136.5,91.6 L136.9,91.0 L137.3,90.4 L137.7,89.8 L138.1,89.2 L138.5,88.7 L138.9,88.2 L139.3,87.8 L139.7,87.4 L140.1,87.2 L140.7,87.1 L141.3,87.1 L141.8,87.2 L142.4,87.4 L143.0,87.6 L143.6,87.9 L144.2,88.4 L144.8,88.8 L145.4,89.2 L145.9,89.2 L146.3,89.0 L146.6,88.6 L146.9,88.1 L147.2,87.5 L147.5,86.8 L147.7,86.1 L148.0,85.4 L148.3,84.7 L148.5,84.1 L148.7,83.5 L149.0,82.9 L149.2,82.4 L149.4,81.8 L149.6,81.2 L149.8,80.6 L150.0,80.0 L150.2,79.3 L150.4,78.8 L150.5,78.2 L150.7,77.6 L150.9,77.0 L151.1,76.4 L151.2,75.8 L151.4,75.1 L151.6,74.5 L151.8,73.9 L152.0,73.3 L152.2,72.7 L152.4,72.1 L152.6,71.5 L152.8,70.9 L153.1,70.3 L153.4,69.6 L153.6,69.0 L153.9,68.4 L154.2,67.8 L154.4,67.2 L154.7,66.6 L155.1,66.1 L155.4,65.7 L155.7,65.3 L156.2,64.8 L156.7,64.4 L157.3,64.1 L157.9,63.8 L158.5,63.7 L159.0,63.7 L159.6,63.7 L160.2,63.8 L160.8,63.9 L161.4,64.1 L162.1,64.3 L162.7,64.5 L163.4,64.8 L164.0,65.0 L164.6,65.2 L165.2,65.5 L165.8,65.8 L166.4,66.2 L167.1,66.6 L167.7,67.0 L168.4,67.3 L169.0,67.6 L169.6,67.9 L170.2,68.1 L170.7,68.3 L171.2,68.3 L171.8,68.2 L172.4,68.0 L172.9,67.7 L173.4,67.3 L174.0,67.0 L174.5,66.7 L175.1,66.4 L175.6,66.1 L176.2,65.7 L176.7,65.4 L177.3,65.2 L177.8,65.2 L178.3,65.3 L178.8,65.5 L179.3,65.9 L179.7,66.3 L180.2,66.7 L180.6,67.2 L180.9,67.6 L181.2,68.1 L181.5,68.6 L181.8,69.1 L182.1,69.7 L182.3,70.3 L182.6,70.9 L182.8,71.6 L183.1,72.3 L183.3,73.0 L183.5,73.5 L183.6,74.0 L183.7,74.6 L183.9,75.2 L184.0,75.7 L184.1,76.3 L184.2,77.0 L184.3,77.6 L184.4,78.2 L184.5,78.9 L184.6,79.6 L184.7,80.2 L184.8,80.9 L184.9,81.6 L185.0,82.2 L185.1,82.9 L185.2,83.6 L185.3,84.2 L185.4,84.9 L185.5,85.6 L185.6,86.2 L185.7,86.8 L185.8,87.5 L185.9,88.1 L186.0,88.8 L186.1,89.4 L186.2,90.0 L186.3,90.6 L186.4,91.3 L186.5,91.9 L186.6,92.5 L186.7,93.2 L186.8,93.8 L186.9,94.5 L187.0,95.1 L187.1,95.8 L187.1,96.5 L187.2,97.2 L187.3,97.8 L187.4,98.6 L187.5,99.3 L187.6,100.0 L187.7,100.6 L187.7,101.2 L187.8,101.8 L187.9,102.4 L187.9,103.1 L188.0,103.7 L188.1,104.3 L188.2,105.0 L188.2,105.7 L188.3,106.3 L188.4,107.0 L188.4,107.7 L188.5,108.4 L188.5,109.1 L188.6,109.8 L188.7,110.5 L188.7,111.2 L188.8,111.9 L188.9,112.6 L188.9,113.3 L189.0,114.0 L189.1,114.6 L189.1,115.3 L189.2,116.0 L189.2,116.7 L189.3,117.4 L189.4,118.0 L189.4,118.7 L189.5,119.4 L189.6,120.0 L189.6,120.6 L189.7,121.3 L189.7,121.9 L189.8,122.5 L189.9,123.2 L189.9,123.9 L190.0,124.6 L190.1,125.3 L190.1,126.0 L190.2,126.6 L190.3,127.3 L190.3,128.0 L190.4,128.6 L190.4,129.3 L190.5,129.9 L190.6,130.6 L190.6,131.2 L190.7,131.8 L190.7,132.5 L190.8,133.1 L190.9,133.7 L190.9,134.3 L191.0,135.0 L191.1,135.6 L191.2,136.2 L191.2,136.8 L191.3,137.4 L191.4,138.0 L191.5,138.7 L191.6,139.3 L191.7,140.0 L191.8,140.6 L191.9,141.3 L192.0,141.9 L192.2,142.5 L192.3,143.2 L192.4,143.8 L192.5,144.4 L192.6,145.0 L192.8,145.7 L192.9,146.3 L193.0,146.9 L193.1,147.5 L193.2,148.1 L193.3,148.7 L193.4,149.4 L193.5,150.0 L193.6,150.7 L193.7,151.3 L193.7,152.0 L193.8,152.7 L193.9,153.3 L194.0,154.0 L194.0,154.7 L194.1,155.4 L194.1,156.0 L194.2,156.7 L194.3,157.4 L194.3,158.0 L194.4,158.7 L194.4,159.3 L194.5,160.0 L194.6,160.6 L194.6,161.2 L194.7,161.8 L194.8,162.5 L194.9,163.2 L194.9,163.8 L195.0,164.5 L195.1,165.1 L195.1,165.8 L195.2,166.4 L195.3,167.0 L195.4,167.6 L195.5,168.2 L195.6,168.8 L195.7,169.4 L195.9,170.0 L196.1,170.6 L196.3,171.3 L196.5,171.9 L196.7,172.6 L197.0,173.2 L197.2,173.8 L197.5,174.4 L197.8,175.0 L198.1,175.5 L198.4,176.0 L198.8,176.5 L199.2,177.0 L199.7,177.4 L200.2,177.8 L200.8,178.1 L201.3,178.4 L201.9,178.7 L202.4,179.0 L203.0,179.2 L203.6,179.4 L204.1,179.6 L204.7,179.7 L205.3,179.8 L205.9,180.0 L206.4,180.1 L207.0,180.2 L207.6,180.4 L208.2,180.6 L208.8,180.9 L209.4,181.1 L210.0,181.4 L210.6,181.7 L211.2,181.9 L211.8,182.2 L212.4,182.4 L213.0,182.6 L213.7,182.8 L214.3,183.0 L215.0,183.1 L215.7,183.3 L216.3,183.4 L217.0,183.5 L217.6,183.5 L218.2,183.5 L218.9,183.5 L219.5,183.4 L220.1,183.3 L220.7,183.2 L221.3,183.0 L221.8,182.7 L222.3,182.4 L222.8,182.0 L223.2,181.5 L223.7,181.1 L224.1,180.5 L224.5,180.0 L224.9,179.4 L225.3,178.8 L225.6,178.3 L225.9,177.8 L226.2,177.2 L226.5,176.7 L226.8,176.1 L227.1,175.5 L227.4,174.9 L227.7,174.3 L227.9,173.6 L228.2,173.0 L228.5,172.4 L228.8,171.8 L229.1,171.2 L229.4,170.6 L229.6,170.0 L229.9,169.4 L230.2,168.8 L230.5,168.2 L230.7,167.5 L231.0,166.9 L231.3,166.3 L231.6,165.8 L231.8,165.2 L232.1,164.6 L232.4,164.1 L232.7,163.5 L233.0,162.8 L233.3,162.2 L233.6,161.5 L234.0,160.9 L234.3,160.4 L234.6,159.9 L234.9,159.5 L235.3,159.3 L235.8,159.2 L236.4,159.3 L237.0,159.5 L237.6,159.8 L238.1,160.1 L238.6,160.5 L239.1,160.9 L239.7,161.3 L240.2,161.5 L240.6,161.6 L241.0,161.4 L241.4,161.1 L241.8,160.6 L242.2,160.1 L242.5,159.5 L242.7,159.0 L242.9,158.5 L243.1,158.0 L243.3,157.4 L243.5,156.8 L243.6,156.2 L243.8,155.6 L244.0,155.0 L244.3,154.4 L244.6,153.9 L244.8,153.3 L245.1,152.7 L245.5,152.2 L245.8,151.6 L246.1,151.0 L246.5,150.4 L246.9,149.9 L247.2,149.3 L247.5,148.8 L247.9,148.3 L248.2,147.8 L248.6,147.2 L249.0,146.6 L249.4,146.1 L249.7,145.6 L250.1,145.1 L250.5,144.6 L251.0,144.2 L251.4,143.8 L251.9,143.5 L252.4,143.2 L252.9,142.9 L253.5,142.6 L254.0,142.3 L254.4,142.0 L254.9,141.6 L255.3,141.2 L255.7,140.7 L256.1,140.3 L256.4,139.8 L256.8,139.3 L257.2,138.8 L257.5,138.2 L257.8,137.7 L258.2,137.2 L258.5,136.7 L258.9,136.2 L259.2,135.6 L259.5,135.0 L259.8,134.5 L260.1,133.9 L260.4,133.4 L260.8,132.9 L261.1,132.4 L261.5,131.9 L261.9,131.4 L262.4,131.0 L262.9,130.5 L263.4,130.1 L263.9,129.7 L264.4,129.3 L264.9,129.0 L265.5,128.6 L266.0,128.3 L266.6,127.9 L267.2,127.6 L267.7,127.3 L268.3,127.0 L268.9,126.8 L269.5,126.5 L270.2,126.2 L270.8,126.0 L271.4,125.8 L271.9,125.6 L272.5,125.4 L273.1,125.2 L273.7,125.0 L274.3,124.8 L274.9,124.7 L275.5,124.5 L276.1,124.4 L276.8,124.2 L277.4,124.1 L278.0,124.0 L278.6,123.9 L279.2,123.8 L279.7,123.8 L280.3,123.7 L280.9,123.6 L281.5,123.6 L282.2,123.6 L282.8,123.5 L283.6,123.5 L284.4,123.4 L285.3,123.4 L285.7,123.4 L286.1,123.4 L286.5,123.3 L287.0,123.3 L287.4,123.3 L287.9,123.3 L288.4,123.3 L288.9,123.3 L289.4,123.3 L290.0,123.3 L290.5,123.2 L291.1,123.2 L291.6,123.2 L292.2,123.2 L292.8,123.2 L293.4,123.2 L294.0,123.2 L294.7,123.2 L295.3,123.2 L295.9,123.2 L296.6,123.2 L297.3,123.2 L297.9,123.2 L298.6,123.2 L299.3,123.2 L300.0,123.2 L300.7,123.2 L301.4,123.2 L302.1,123.2 L302.8,123.2 L303.5,123.2 L304.2,123.2 L305.0,123.2 L305.7,123.2 L306.4,123.2 L307.2,123.2 L307.9,123.2 L308.7,123.2 L309.4,123.2 L310.2,123.2 L310.9,123.2 L311.7,123.2 L312.4,123.2 L313.2,123.2 L313.9,123.2 L314.6,123.2 L315.4,123.2 L316.1,123.2 L316.9,123.2 L317.6,123.2 L318.4,123.2 L319.1,123.2 L319.8,123.2 L320.5,123.2 L321.3,123.2 L322.0,123.2 L322.7,123.2 L323.4,123.2 L324.1,123.2 L324.8,123.2 L325.5,123.2 L326.1,123.2 L326.8,123.2 L327.5,123.2 L328.1,123.2 L328.7,123.2 L329.4,123.2 L330.0,123.2 L330.7,123.2 L331.4,123.2 L332.1,123.2 L332.8,123.2 L333.5,123.2 L334.2,123.2 L334.8,123.2 L335.5,123.2 L336.2,123.2 L336.9,123.2 L337.5,123.2 L338.2,123.2 L338.9,123.2 L339.6,123.2 L340.2,123.2 L340.9,123.2 L341.5,123.2 L342.2,123.2 L342.9,123.2 L343.5,123.2 L344.2,123.2 L344.8,123.2 L345.5,123.2 L346.1,123.1 L346.8,123.1 L347.4,123.1 L348.1,123.1 L348.7,123.1 L349.4,123.1 L350.0,123.1 L350.7,123.1 L351.3,123.1 L352.0,123.1 L352.6,123.1 L353.3,123.1 L353.9,123.1 L354.6,123.1 L355.2,123.1 L355.9,123.1 L356.5,123.1 L357.2,123.1 L357.8,123.1 L358.5,123.1 L359.1,123.1 L359.8,123.1 L360.4,123.1 L361.1,123.1 L361.7,123.1 L362.4,123.1 L363.0,123.1 L363.7,123.1 L364.3,123.1 L365.0,123.1"/>
<path stroke="#008000" d="M23.5,75.9 L24.2,75.9 L24.8,75.9 L25.5,75.9 L26.2,75.9 L26.8,75.9 L27.5,75.9 L28.2,75.9 L28.8,75.9 L29.5,75.9 L30.2,75.9 L30.9,75.9 L31.5,75.9 L32.2,75.9 L32.9,75.9 L33.6,75.9 L34.2,75.9 L34.9,75.9 L35.6,75.9 L36.2,75.9 L36.9,75.9 L37.6,75.9 L38.3,75.9 L38.9,75.9 L39.6,75.9 L40.3,75.9 L41.0,75.9 L41.6,75.9 L42.3,75.9 L43.0,75.9 L43.7,75.9 L44.3,75.9 L45.0,75.9 L45.7,75.9 L46.3,75.9 L47.0,75.9 L47.7,75.9 L48.3,75.9 L49.0,75.9 L49.6,75.9 L50.3,75.9 L51.0,75.9 L51.6,75.8 L52.3,75.8 L52.9,75.8 L53.6,75.8 L54.2,75.8 L54.9,75.8 L55.5,75.8 L56.2,75.8 L56.8,75.8 L57.5,75.8 L58.1,75.8 L58.7,75.8 L59.4,75.8 L60.0,75.8 L60.7,75.8 L61.4,75.8 L62.1,75.8 L62.8,75.8 L63.5,75.8 L64.2,75.8 L64.9,75.7 L65.6,75.7 L66.3,75.7 L67.0,75.7 L67.7,75.7 L68.4,75.7 L69.1,75.7 L69.8,75.7 L70.5,75.7 L71.2,75.6 L71.9,75.6 L72.6,75.6 L73.3,75.6 L74.0,75.6 L74.7,75.6 L75.4,75.6 L76.0,75.6 L76.7,75.6 L77.4,75.5 L78.1,75.5 L78.7,75.5 L79.4,75.5 L80.0,75.5 L80.7,75.5 L81.3,75.5 L82.0,75.5 L82.6,75.5 L83.2,75.4 L83.8,75.4 L84.4,75.4 L85.0,75.4 L85.6,75.4 L86.2,75.4 L86.8,75.4 L87.3,75.4 L87.9,75.4 L88.4,75.4 L89.0,75.4 L89.5,75.4 L90.0,75.4 L90.8,75.4 L91.6,75.4 L92.3,75.4 L93.1,75.4 L93.8,75.5 L94.6,75.5 L95.3,75.5 L95.9,75.5 L96.6,75.6 L97.3,75.6 L97.9,75.6 L98.5,75.6 L99.1,75.6 L99.7,75.6 L100.2,75.6 L100.8,75.6 L101.3,75.6 L101.8,75.6 L102.5,75.6 L103.1,75.5 L103.7,75.4 L104.3,75.4 L104.8,75.3 L105.4,75.1 L106.0,75.0 L106.5,74.9 L107.1,74.7 L107.7,74.5 L108.3,74.3 L108.8,74.1 L109.4,73.9 L110.0,73.6 L110.6,73.4 L111.2,73.2 L111.8,73.0 L112.4,72.8 L113.0,72.6 L113.6,72.4 L114.3,72.3 L114.9,72.1 L115.5,71.9 L116.1,71.7 L116.7,71.5 L117.3,71.2 L117.9,71.0 L118.5,70.7 L119.1,70.4 L119.6,70.1 L120.2,69.8 L120.8,69.4 L121.3,69.1 L121.8,68.7 L122.4,68.4 L122.9,68.0 L123.4,67.6 L124.0,67.2 L124.5,66.8 L125.0,66.3 L125.5,65.9 L126.0,65.5 L126.5,65.0 L127.0,64.6 L127.5,64.2 L128.0,63.8 L128.5,63.4 L128.9,63.1 L129.4,62.7 L129.8,62.3 L130.3,62.0 L130.7,61.6 L131.2,61.2 L131.7,60.8 L132.2,60.3 L132.7,59.8 L133.1,59.4 L133.6,58.9 L134.1,58.4 L134.5,58.0 L135.0,57.5 L135.4,57.1 L135.8,56.6 L136.2,56.1 L136.6,55.7 L137.0,55.2 L137.4,54.8 L137.8,54.4 L138.2,54.1 L138.7,53.7 L139.3,53.4 L139.8,53.1 L140.3,53.0 L140.9,52.9 L141.5,53.0 L142.0,53.4 L142.6,53.8 L143.2,54.2 L143.8,54.5 L144.4,54.6 L144.9,54.5 L145.4,54.3 L146.0,54.0 L146.5,53.6 L147.0,53.2 L147.5,52.8 L147.9,52.4 L148.3,52.0 L148.7,51.6 L149.0,51.2 L149.4,50.7 L149.7,50.2 L150.0,49.7 L150.3,49.2 L150.5,48.7 L150.8,48.1 L151.0,47.5 L151.2,46.9 L151.5,46.2 L151.7,45.6 L152.0,45.0 L152.3,44.4 L152.6,43.8 L152.9,43.2 L153.3,42.6 L153.6,42.0 L154.0,41.4 L154.3,40.8 L154.7,40.3 L155.1,39.7 L155.5,39.2 L155.9,38.8 L156.4,38.3 L156.9,37.9 L157.5,37.5 L158.0,37.2 L158.6,36.9 L159.1,36.7 L159.7,36.5 L160.3,36.5 L160.9,36.5 L161.4,36.7 L162.0,36.8 L162.6,36.9 L163.2,37.0 L163.8,37.0 L164.4,36.9 L165.0,36.7 L165.6,36.6 L166.2,36.5 L166.8,36.5 L167.4,36.6 L168.1,36.8 L168.7,37.0 L169.4,37.2 L170.0,37.4 L170.6,37.4 L171.2,37.4 L171.8,37.2 L172.3,36.8 L172.8,36.4 L173.3,35.9 L173.8,35.5 L174.2,35.0 L174.7,34.7 L175.2,34.4 L175.7,34.1 L176.3,33.9 L176.8,33.8 L177.3,33.9 L177.9,34.1 L178.4,34.4 L179.0,34.8 L179.5,35.2 L180.0,35.6 L180.4,36.0 L180.8,36.5 L181.2,36.9 L181.6,37.4 L182.0,38.0 L182.3,38.5 L182.6,39.1 L182.9,39.6 L183.1,40.2 L183.3,40.7 L183.5,41.3 L183.7,41.9 L183.9,42.5 L184.0,43.1 L184.2,43.8 L184.4,44.4 L184.6,45.0 L184.7,45.6 L184.9,46.2 L185.1,46.9 L185.3,47.5 L185.4,48.2 L185.6,48.8 L185.7,49.5 L185.9,50.1 L186.0,50.8 L186.2,51.5 L186.3,52.1 L186.5,52.7 L186.6,53.3 L186.7,53.9 L186.8,54.5 L187.0,55.1 L187.1,55.7 L187.2,56.3 L187.3,57.0 L187.4,57.6 L187.6,58.3 L187.7,58.9 L187.8,59.6 L187.9,60.3 L188.0,60.9 L188.1,61.5 L188.2,62.1 L188.3,62.8 L188.4,63.4 L188.5,64.0 L188.6,64.7 L188.6,65.3 L188.7,66.0 L188.8,66.7 L188.9,67.4 L189.0,68.0 L189.1,68.7 L189.2,69.4 L189.3,70.1 L189.4,70.8 L189.4,71.5 L189.5,72.1 L189.6,72.8 L189.7,73.5 L189.8,74.1 L189.9,74.8 L189.9,75.4 L190.0,76.0 L190.1,76.7 L190.2,77.3 L190.2,78.0 L190.3,78.7 L190.4,79.3 L190.5,80.0 L190.6,80.6 L190.6,81.3 L190.7,81.9 L190.8,82.6 L190.9,83.3 L190.9,83.9 L191.0,84.5 L191.1,85.2 L191.2,85.8 L191.3,86.4 L191.3,87.0 L191.4,87.6 L191.5,88.2 L191.6,88.9 L191.7,89.6 L191.8,90.3 L191.9,90.9 L192.0,91.6 L192.1,92.3 L192.2,92.9 L192.3,93.6 L192.4,94.2 L192.6,94.8 L192.7,95.5 L192.8,96.1 L192.9,96.7 L193.0,97.3 L193.1,97.9 L193.2,98.5 L193.3,99.2 L193.4,99.9 L193.5,100.5 L193.6,101.2 L193.8,101.9 L193.9,102.5 L194.0,103.2 L194.1,103.8 L194.2,104.4 L194.4,105.0 L194.5,105.6 L194.7,106.2 L194.9,106.9 L195.1,107.5 L195.4,108.1 L195.6,108.8 L195.9,109.4 L196.1,109.9 L196.4,110.5 L196.8,111.0 L197.1,111.5 L197.5,112.0 L198.0,112.5 L198.5,112.9 L199.0,113.4 L199.5,113.7 L200.0,114.1 L200.6,114.4 L201.1,114.7 L201.7,114.9 L202.3,115.1 L202.9,115.3 L203.5,115.4 L204.1,115.6 L204.7,115.7 L205.3,115.8 L205.9,115.9 L206.6,116.0 L207.3,116.0 L208.0,116.0 L208.6,116.0 L209.3,116.0 L210.0,116.1 L210.6,116.1 L211.2,116.2 L211.8,116.2 L212.4,116.3 L212.9,116.4 L213.5,116.5 L214.1,116.5 L214.7,116.5 L215.3,116.4 L215.8,116.4 L216.4,116.3 L217.0,116.2 L217.7,116.0 L218.3,115.9 L218.9,115.7 L219.5,115.5 L220.1,115.3 L220.6,115.0 L221.1,114.7 L221.6,114.4 L222.1,114.0 L222.6,113.6 L223.1,113.2 L223.5,112.8 L224.0,112.3 L224.4,111.9 L224.9,111.4 L225.3,110.9 L225.7,110.4 L226.1,109.9 L226.5,109.4 L226.8,108.8 L227.2,108.3 L227.6,107.7 L227.9,107.1 L228.3,106.5 L228.6,106.0 L229.0,105.4 L229.3,104.8 L229.7,104.3 L230.0,103.8 L230.4,103.2 L230.8,102.6 L231.2,102.0 L231.6,101.5 L231.9,100.9 L232.3,100.4 L232.7,99.9 L233.1,99.5 L233.5,99.1 L234.0,98.7 L234.5,98.3 L235.0,97.9 L235.5,97.7 L236.0,97.5 L236.5,97.4 L237.1,97.5 L237.6,97.9 L238.2,98.3 L238.8,98.7 L239.4,99.0 L240.0,99.1 L240.5,99.0 L240.9,98.8 L241.4,98.4 L241.8,98.0 L242.3,97.6 L242.8,97.1 L243.2,96.6 L243.7,96.1 L244.1,95.6 L244.5,95.2 L244.8,94.7 L245.2,94.2 L245.5,93.7 L245.8,93.1 L246.2,92.6 L246.5,92.0 L246.9,91.5 L247.2,91.0 L247.6,90.4 L248.0,90.0 L248.4,89.5 L248.8,89.1 L249.3,88.7 L249.8,88.4 L250.4,88.0 L250.9,87.7 L251.5,87.5 L252.1,87.2 L252.6,86.9 L253.2,86.7 L253.7,86.4 L254.2,86.1 L254.7,85.8 L255.2,85.4 L255.7,85.0 L256.1,84.6 L256.5,84.2 L256.9,83.7 L257.3,83.3 L257.8,83.0 L258.2,82.6 L258.7,82.2 L259.3,81.8 L259.8,81.5 L260.4,81.2 L260.9,80.8 L261.5,80.5 L262.0,80.2 L262.6,79.9 L263.1,79.6 L263.7,79.3 L264.3,79.0 L264.9,78.8 L265.5,78.5 L266.1,78.3 L266.6,78.1 L267.2,77.9 L267.8,77.7 L268.4,77.5 L269.1,77.3 L269.7,77.2 L270.2,77.1 L270.8,77.0 L271.5,77.0 L272.1,77.0 L272.7,77.0 L273.4,77.1 L274.0,77.1 L274.7,77.1 L275.3,77.0 L275.8,76.9 L276.4,76.8 L277.0,76.7 L277.6,76.5 L278.2,76.4 L278.8,76.2 L279.4,76.1 L280.0,76.0 L280.6,75.9 L281.1,75.9 L281.6,75.8 L282.1,75.8 L282.6,75.8 L283.2,75.8 L283.8,75.8 L284.4,75.7 L285.2,75.7 L286.0,75.7 L286.4,75.7 L286.7,75.7 L287.1,75.7 L287.6,75.7 L288.0,75.7 L288.5,75.7 L288.9,75.6 L289.4,75.6 L289.9,75.6 L290.4,75.6 L291.0,75.6 L291.5,75.6 L292.1,75.6 L292.6,75.6 L293.2,75.6 L293.8,75.6 L294.4,75.6 L295.0,75.6 L295.7,75.6 L296.3,75.6 L297.0,75.6 L297.6,75.6 L298.3,75.6 L299.0,75.6 L299.7,75.6 L300.3,75.6 L301.1,75.6 L301.8,75.6 L302.5,75.6 L303.2,75.6 L303.9,75.6 L304.7,75.6 L305.4,75.6 L306.1,75.6 L306.9,75.6 L307.6,75.6 L308.4,75.6 L309.1,75.6 L309.9,75.6 L310.6,75.6 L311.4,75.6 L312.2,75.6 L312.9,75.6 L313.7,75.6 L314.4,75.6 L315.2,75.6 L315.9,75.6 L316.7,75.6 L317.5,75.6 L318.2,75.6 L318.9,75.6 L319.7,75.6 L320.4,75.6 L321.1,75.5 L321.9,75.5 L322.6,75.5 L323.3,75.5 L324.0,75.5 L324.7,75.5 L325.4,75.5 L326.1,75.5 L326.8,75.5 L327.4,75.5 L328.1,75.5 L328.7,75.5 L329.4,75.5 L330.0,75.5 L330.7,75.5 L331.4,75.5 L332.1,75.5 L332.7,75.5 L333.4,75.5 L334.1,75.5 L334.8,75.5 L335.5,75.4 L336.1,75.4 L336.8,75.4 L337.5,75.4 L338.1,75.4 L338.8,75.4 L339.5,75.4 L340.1,75.4 L340.8,75.4 L341.4,75.4 L342.1,75.4 L342.7,75.3 L343.4,75.3 L344.0,75.3 L344.7,75.3 L345.3,75.3 L346.0,75.3 L346.6,75.3 L347.3,75.3 L347.9,75.3 L348.6,75.3 L349.2,75.2 L349.9,75.2 L350.5,75.2 L351.2,75.2 L351.8,75.2 L352.5,75.2 L353.1,75.2 L353.7,75.2 L354.4,75.2 L355.0,75.2 L355.7,75.1 L356.3,75.1 L357.0,75.1 L357.6,75.1 L358.3,75.1 L358.9,75.1 L359.5,75.1 L360.2,75.1 L360.8,75.1 L361.5,75.1 L362.1,75.0 L362.8,75.0 L363.4,75.0 L364.1,75.0 L364.7,75.0 L365.4,75.0"/>
<path stroke="#000" d="M434.3,231.1 L435.0,231.1 L435.6,231.1 L436.3,231.1 L437.0,231.1 L437.7,231.1 L438.4,231.1 L439.0,231.1 L439.7,231.1 L440.4,231.1 L441.1,231.1 L441.8,231.1 L442.5,231.1 L443.3,231.1 L444.0,231.1 L444.7,231.1 L445.4,231.1 L446.1,231.1 L446.8,231.1 L447.6,231.1 L448.3,231.1 L449.0,231.1 L449.7,231.1 L450.5,231.1 L451.2,231.1 L451.9,231.0 L452.7,231.0 L453.4,231.0 L454.1,231.0 L454.9,231.0 L455.6,231.0 L456.3,231.0 L457.1,231.0 L457.8,231.0 L458.6,231.0 L459.3,231.0 L460.0,231.0 L460.8,231.0 L461.5,231.0 L462.2,231.0 L463.0,231.0 L463.7,231.0 L464.4,231.0 L465.2,231.0 L465.9,231.0 L466.6,231.0 L467.4,231.0 L468.1,231.0 L468.8,231.0 L469.5,231.0 L470.2,231.0 L471.0,231.0 L471.7,231.0 L472.4,231.0 L473.1,231.0 L473.8,231.0 L474.5,231.0 L475.2,231.0 L475.9,231.0 L476.6,231.0 L477.3,231.0 L478.0,231.0 L478.6,231.0 L479.3,231.0 L480.0,231.0 L480.7,231.0 L481.3,231.0 L482.0,231.0 L482.7,231.0 L483.3,231.0 L484.0,231.0 L484.6,231.0 L485.2,231.0 L485.9,231.0 L486.5,231.0 L487.1,230.9 L487.7,230.9 L488.3,230.9 L488.9,230.9 L489.5,230.9 L490.1,230.9 L490.7,230.9 L491.3,230.9 L491.9,230.9 L492.4,230.9 L493.0,230.9 L493.5,230.9 L494.1,230.8 L494.6,230.8 L495.1,230.8 L495.7,230.8 L496.2,230.8 L496.7,230.8 L497.2,230.8 L497.7,230.8 L498.2,230.8 L498.6,230.7 L499.1,230.7 L499.6,230.7 L500.0,230.7 L500.9,230.7 L501.7,230.6 L502.5,230.6 L503.3,230.6 L504.1,230.6 L504.9,230.6 L505.6,230.5 L506.3,230.5 L507.0,230.5 L507.7,230.5 L508.3,230.5 L509.0,230.4 L509.6,230.4 L510.2,230.4 L510.9,230.3 L511.5,230.3 L512.0,230.3 L512.6,230.2 L513.2,230.2 L513.8,230.1 L514.3,230.0 L514.9,230.0 L515.4,229.9 L516.0,229.8 L516.5,229.7 L517.2,229.6 L517.9,229.4 L518.6,229.3 L519.3,229.1 L519.9,228.9 L520.5,228.8 L521.1,228.6 L521.7,228.4 L522.3,228.2 L522.9,227.9 L523.5,227.7 L524.1,227.5 L524.7,227.2 L525.3,227.0 L525.8,226.7 L526.4,226.4 L526.9,226.2 L527.5,225.9 L528.1,225.6 L528.6,225.3 L529.2,225.0 L529.7,224.7 L530.2,224.4 L530.8,224.0 L531.3,223.7 L531.9,223.3 L532.4,222.9 L532.9,222.5 L533.4,222.1 L533.8,221.7 L534.3,221.3 L534.7,220.8 L535.2,220.3 L535.6,219.8 L536.0,219.3 L536.5,218.8 L536.9,218.3 L537.3,217.8 L537.8,217.3 L538.2,216.7 L538.6,216.2 L539.0,215.7 L539.5,215.2 L539.9,214.7 L540.3,214.2 L540.8,213.7 L541.2,213.2 L541.7,212.7 L542.1,212.2 L542.6,211.7 L543.1,211.2 L543.5,210.7 L544.0,210.3 L544.5,209.8 L545.0,209.3 L545.4,208.8 L545.9,208.3 L546.4,207.8 L546.8,207.4 L547.3,206.9 L547.7,206.5 L548.2,206.1 L548.6,205.7 L549.0,205.3 L549.4,205.0 L550.0,204.5 L550.5,204.0 L551.0,203.6 L551.5,203.2 L551.9,202.8 L552.4,202.5 L552.9,202.2 L553.5,201.9 L554.1,201.7 L554.8,201.6 L555.4,201.6 L556.1,201.6 L556.8,201.6 L557.5,201.6 L558.1,201.5 L558.7,201.3 L559.3,201.0 L559.8,200.7 L560.4,200.3 L560.8,199.9 L561.3,199.4 L561.8,198.8 L562.1,198.4 L562.4,197.9 L562.7,197.4 L563.0,196.8 L563.2,196.2 L563.5,195.6 L563.8,194.9 L564.0,194.3 L564.3,193.6 L564.5,192.9 L564.8,192.3 L565.1,191.6 L565.3,191.0 L565.6,190.4 L565.9,189.8 L566.2,189.2 L566.5,188.6 L566.8,187.9 L567.1,187.3 L567.4,186.7 L567.7,186.1 L568.0,185.5 L568.3,184.9 L568.6,184.3 L568.9,183.8 L569.3,183.3 L569.6,182.9 L570.0,182.5 L570.5,182.0 L571.1,181.6 L571.7,181.3 L572.3,181.0 L572.9,180.7 L573.5,180.5 L574.1,180.4 L574.7,180.3 L575.4,180.4 L576.0,180.4 L576.7,180.6 L577.3,180.7 L578.0,180.8 L578.6,180.9 L579.3,181.1 L579.9,181.3 L580.5,181.5 L581.2,181.7 L581.8,181.8 L582.4,181.7 L582.9,181.5 L583.4,181.3 L584.0,180.9 L584.5,180.5 L585.0,180.1 L585.5,179.6 L586.0,179.2 L586.4,178.8 L586.8,178.5 L587.3,178.1 L587.7,177.8 L588.1,177.4 L588.5,177.1 L588.9,176.8 L589.4,176.4 L589.9,176.0 L590.4,175.7 L590.9,175.5 L591.4,175.4 L591.9,175.6 L592.4,175.9 L592.9,176.4 L593.4,177.0 L593.8,177.6 L594.0,178.1 L594.3,178.6 L594.4,179.2 L594.6,179.8 L594.7,180.5 L594.9,181.2 L595.0,181.9 L595.1,182.6 L595.3,183.3 L595.4,184.0 L595.5,184.6 L595.7,185.2 L595.8,185.8 L595.9,186.4 L596.0,187.0 L596.2,187.6 L596.3,188.3 L596.4,188.9 L596.5,189.5 L596.6,190.2 L596.8,190.8 L596.9,191.4 L597.0,192.1 L597.1,192.7 L597.2,193.4 L597.3,194.0 L597.5,194.6 L597.6,195.3 L597.7,195.9 L597.8,196.6 L597.9,197.3 L598.0,197.9 L598.1,198.6 L598.2,199.2 L598.3,199.9 L598.4,200.5 L598.5,201.2 L598.6,201.8 L598.7,202.4 L598.8,203.1 L598.8,203.7 L598.9,204.3 L599.0,204.9 L599.0,205.6 L599.1,206.2 L599.2,206.8 L599.2,207.4 L599.3,208.0 L599.4,208.7 L599.4,209.3 L599.5,209.9 L599.6,210.6 L599.7,211.2 L599.8,211.8 L599.8,212.4 L599.9,213.0 L600.0,213.7 L600.1,214.3 L600.2,214.9 L600.3,215.6 L600.4,216.2 L600.5,216.9 L600.6,217.5 L600.7,218.1 L600.8,218.8 L600.9,219.4 L600.9,220.0 L601.0,220.6 L601.1,221.2 L601.2,221.9 L601.3,222.5 L601.3,223.1 L601.4,223.8 L601.5,224.4 L601.5,225.0 L601.6,225.6 L601.6,226.3 L601.7,226.9 L601.8,227.5 L601.8,228.1 L601.9,228.7 L601.9,229.4 L602.0,230.0 L602.1,230.6 L602.1,231.3 L602.2,231.9 L602.2,232.5 L602.3,233.2 L602.4,233.8 L602.4,234.4 L602.5,235.1 L602.5,235.7 L602.6,236.4 L602.7,237.0 L602.7,237.7 L602.8,238.4 L602.9,239.1 L603.0,239.7 L603.0,240.3 L603.1,240.9 L603.2,241.5 L603.3,242.1 L603.3,242.7 L603.4,243.4 L603.5,244.0 L603.6,244.7 L603.7,245.4 L603.7,246.0 L603.8,246.7 L603.9,247.3 L604.0,248.0 L604.1,248.7 L604.2,249.3 L604.3,250.0 L604.4,250.7 L604.4,251.3 L604.5,251.9 L604.6,252.6 L604.7,253.2 L604.8,253.9 L604.9,254.6 L605.0,255.2 L605.1,255.9 L605.1,256.6 L605.2,257.3 L605.3,257.9 L605.4,258.6 L605.5,259.3 L605.6,259.9 L605.7,260.6 L605.8,261.2 L605.9,261.9 L606.0,262.5 L606.1,263.2 L606.2,263.8 L606.3,264.4 L606.4,265.0 L606.5,265.6 L606.6,266.3 L606.8,267.0 L606.9,267.7 L607.1,268.3 L607.2,269.0 L607.3,269.7 L607.5,270.3 L607.6,271.0 L607.8,271.6 L608.0,272.2 L608.2,272.8 L608.4,273.3 L608.6,273.9 L608.8,274.4 L609.1,275.1 L609.4,275.8 L609.8,276.4 L610.1,277.0 L610.5,277.6 L610.9,278.1 L611.3,278.5 L611.8,278.8 L612.3,279.0 L612.9,279.1 L613.5,279.1 L614.1,279.0 L614.7,278.9 L615.3,278.8 L615.9,278.7 L616.5,278.5 L617.2,278.2 L617.8,278.0 L618.4,277.8 L619.1,277.7 L619.7,277.6 L620.3,277.6 L620.9,277.8 L621.6,277.9 L622.2,278.2 L622.8,278.4 L623.4,278.6 L624.1,278.8 L624.7,279.0 L625.3,279.1 L625.8,279.3 L626.4,279.5 L627.1,279.7 L627.7,279.9 L628.2,280.0 L628.8,280.1 L629.4,280.1 L630.1,280.1 L630.7,280.0 L631.4,279.9 L632.0,279.7 L632.6,279.4 L633.2,279.1 L633.8,278.8 L634.2,278.5 L634.7,278.1 L635.1,277.7 L635.5,277.2 L635.9,276.7 L636.3,276.2 L636.7,275.7 L637.1,275.1 L637.4,274.6 L637.8,274.0 L638.2,273.5 L638.6,273.0 L638.9,272.5 L639.3,271.9 L639.6,271.4 L639.9,270.9 L640.3,270.3 L640.6,269.7 L641.0,269.2 L641.3,268.6 L641.6,268.1 L641.9,267.5 L642.3,267.0 L642.6,266.5 L643.0,265.9 L643.3,265.3 L643.7,264.7 L644.0,264.2 L644.4,263.6 L644.7,263.0 L645.1,262.5 L645.4,262.0 L645.8,261.6 L646.2,261.2 L646.8,260.8 L647.4,260.4 L648.0,260.1 L648.6,259.8 L649.2,259.6 L649.7,259.4 L650.3,259.2 L650.9,259.0 L651.5,258.8 L652.0,258.6 L652.5,258.5 L653.0,258.3 L653.6,258.0 L654.1,257.7 L654.5,257.4 L655.0,256.9 L655.4,256.5 L655.8,256.0 L656.3,255.5 L656.7,254.9 L657.2,254.4 L657.6,253.8 L658.0,253.3 L658.3,252.8 L658.7,252.3 L659.0,251.8 L659.4,251.3 L659.8,250.7 L660.1,250.2 L660.5,249.6 L660.9,249.1 L661.3,248.6 L661.7,248.1 L662.1,247.6 L662.5,247.1 L663.0,246.7 L663.5,246.2 L664.0,245.8 L664.5,245.4 L665.0,245.0 L665.5,244.6 L666.0,244.2 L666.5,243.8 L666.9,243.3 L667.4,242.9 L667.9,242.4 L668.3,241.9 L668.8,241.4 L669.2,240.9 L669.6,240.4 L670.1,239.9 L670.5,239.3 L670.9,238.8 L671.4,238.4 L671.8,237.9 L672.3,237.4 L672.7,237.0 L673.2,236.5 L673.7,236.1 L674.1,235.6 L674.6,235.2 L675.1,234.8 L675.6,234.4 L676.2,234.1 L676.8,233.8 L677.3,233.5 L677.9,233.3 L678.5,233.0 L679.1,232.8 L679.8,232.6 L680.4,232.4 L681.1,232.2 L681.7,232.0 L682.4,231.8 L683.0,231.6 L683.6,231.5 L684.2,231.3 L684.8,231.2 L685.4,231.0 L686.0,230.9 L686.6,230.7 L687.3,230.6 L687.9,230.5 L688.6,230.4 L689.2,230.3 L689.9,230.2 L690.5,230.1 L691.2,230.0 L691.8,229.9 L692.5,229.9 L693.1,229.9 L693.7,229.9 L694.3,229.9 L695.0,229.9 L695.6,229.9 L696.3,229.9 L696.9,229.9 L697.6,229.9 L698.2,229.9 L698.9,230.0 L699.6,230.0 L700.3,230.0 L701.1,230.0 L701.8,230.0 L702.4,230.0 L702.9,230.0 L703.5,230.0 L704.1,230.0 L704.6,230.0 L705.2,230.0 L705.8,230.0 L706.4,230.0 L706.9,230.0 L707.5,230.0 L708.1,230.0 L708.7,230.0 L709.4,230.0 L710.0,230.0 L710.6,230.0 L711.3,229.9 L711.9,229.9 L712.6,229.9 L713.3,229.9 L713.9,229.9 L714.6,229.9 L715.4,229.9 L716.1,229.9 L716.8,229.9 L717.6,229.9 L718.4,229.9 L719.2,229.9 L720.0,229.9 L720.5,229.9 L721.0,229.9 L721.5,229.9 L722.0,229.9 L722.5,229.9 L723.0,229.9 L723.6,229.9 L724.1,229.9 L724.7,229.9 L725.2,229.9 L725.8,229.9 L726.4,229.9 L726.9,229.9 L727.5,229.9 L728.1,229.9 L728.7,229.9 L729.3,229.9 L729.9,229.9 L730.5,229.9 L731.2,229.9 L731.8,229.9 L732.4,229.9 L733.1,229.9 L733.7,229.9 L734.3,229.9 L735.0,229.9 L735.6,229.9 L736.3,229.9 L737.0,229.9 L737.6,229.9 L738.3,229.9 L739.0,229.9 L739.7,229.9 L740.3,229.9 L741.0,229.9 L741.7,229.9 L742.4,229.8 L743.1,229.8 L743.8,229.8 L744.5,229.8 L745.2,229.8 L745.9,229.8 L746.6,229.8 L747.3,229.8 L748.0,229.8 L748.7,229.8 L749.5,229.8 L750.2,229.8 L750.9,229.8 L751.6,229.8 L752.3,229.8 L753.0,229.8 L753.8,229.8 L754.5,229.8 L755.2,229.8 L755.9,229.8 L756.6,229.8 L757.4,229.8 L758.1,229.8 L758.8,229.8 L759.5,229.8 L760.2,229.8 L760.9,229.8 L761.7,229.8 L762.4,229.8 L763.1,229.8 L763.8,229.8 L764.5,229.8 L765.2,229.8 L765.9,229.8 L766.6,229.8 L767.3,229.8 L768.0,229.8 L768.7,229.8 L769.4,229.8 L770.1,229.8 L770.8,229.8 L771.4,229.8 L772.1,229.8 L772.8,229.8 L773.5,229.8 L774.1,229.8 L774.8,229.8"/>
<path stroke="#ff0000" d="M434.3,181.2 L435.0,181.2 L435.6,181.2 L436.3,181.2 L437.0,181.2 L437.6,181.2 L438.3,181.2 L439.0,181.1 L439.6,181.1 L440.3,181.1 L441.0,181.1 L441.6,181.1 L442.3,181.1 L443.0,181.1 L443.6,181.1 L444.3,181.1 L445.0,181.1 L445.6,181.1 L446.3,181.1 L447.0,181.1 L447.7,181.1 L448.3,181.1 L449.0,181.0 L449.7,181.0 L450.3,181.0 L451.0,181.0 L451.7,181.0 L452.3,181.0 L453.0,181.0 L453.7,181.0 L454.3,181.0 L455.0,181.0 L455.7,181.0 L456.3,181.0 L457.0,181.0 L457.7,181.0 L458.3,180.9 L459.0,180.9 L459.6,180.9 L460.3,180.9 L461.0,180.9 L461.6,180.9 L462.3,180.9 L462.9,180.9 L463.6,180.9 L464.2,180.9 L464.9,180.9 L465.5,180.9 L466.2,180.9 L466.8,180.8 L467.5,180.8 L468.1,180.8 L468.7,180.8 L469.4,180.8 L470.0,180.8 L470.7,180.8 L471.4,180.8 L472.0,180.8 L472.7,180.8 L473.4,180.8 L474.1,180.7 L474.8,180.7 L475.4,180.7 L476.1,180.7 L476.8,180.7 L477.5,180.7 L478.2,180.7 L478.8,180.7 L479.5,180.7 L480.2,180.6 L480.8,180.6 L481.5,180.6 L482.2,180.6 L482.9,180.6 L483.5,180.6 L484.2,180.6 L484.9,180.6 L485.5,180.6 L486.2,180.5 L486.8,180.5 L487.5,180.5 L488.1,180.5 L488.8,180.5 L489.4,180.5 L490.1,180.5 L490.7,180.5 L491.4,180.5 L492.0,180.4 L492.6,180.4 L493.3,180.4 L493.9,180.4 L494.5,180.4 L495.1,180.4 L495.8,180.4 L496.4,180.4 L497.0,180.4 L497.6,180.3 L498.2,180.3 L498.8,180.3 L499.4,180.3 L500.0,180.3 L500.7,180.3 L501.4,180.3 L502.1,180.3 L502.8,180.3 L503.5,180.3 L504.2,180.2 L504.9,180.2 L505.6,180.2 L506.3,180.2 L506.9,180.2 L507.6,180.2 L508.3,180.2 L508.9,180.2 L509.6,180.2 L510.2,180.2 L510.9,180.2 L511.5,180.2 L512.2,180.2 L512.8,180.2 L513.5,180.2 L514.1,180.1 L514.7,180.1 L515.4,180.1 L516.0,180.1 L516.7,180.1 L517.3,180.0 L518.0,180.0 L518.6,180.0 L519.3,180.0 L519.9,179.9 L520.6,179.9 L521.3,179.9 L521.9,179.8 L522.6,179.8 L523.3,179.7 L524.0,179.7 L524.7,179.6 L525.4,179.5 L526.1,179.5 L526.8,179.4 L527.5,179.3 L528.2,179.3 L528.9,179.2 L529.6,179.1 L530.2,179.1 L530.9,179.0 L531.6,178.9 L532.3,178.8 L533.0,178.8 L533.7,178.7 L534.3,178.6 L535.0,178.6 L535.6,178.5 L536.3,178.4 L536.9,178.4 L537.5,178.3 L538.1,178.2 L538.7,178.2 L539.3,178.1 L539.9,178.1 L540.5,178.0 L541.0,178.0 L541.7,177.9 L542.5,177.9 L543.2,177.9 L543.9,177.8 L544.5,177.8 L545.2,177.8 L545.8,177.7 L546.5,177.7 L547.1,177.7 L547.7,177.7 L548.3,177.6 L548.9,177.6 L549.5,177.6 L550.0,177.5 L550.6,177.5 L551.3,177.5 L551.9,177.4 L552.5,177.4 L553.1,177.3 L553.7,177.3 L554.3,177.3 L554.9,177.2 L555.5,177.1 L556.0,177.0 L556.6,176.9 L557.2,176.7 L557.8,176.6 L558.4,176.4 L559.0,176.2 L559.6,175.9 L560.2,175.7 L560.7,175.4 L561.3,175.2 L561.9,174.9 L562.4,174.6 L563.0,174.3 L563.5,174.0 L564.0,173.7 L564.6,173.3 L565.1,173.0 L565.6,172.6 L566.1,172.3 L566.7,171.9 L567.2,171.6 L567.7,171.3 L568.3,170.9 L568.8,170.6 L569.4,170.2 L570.0,169.9 L570.5,169.6 L571.0,169.2 L571.5,168.9 L572.0,168.6 L572.5,168.3 L573.1,167.9 L573.6,167.6 L574.2,167.2 L574.7,166.9 L575.3,166.5 L575.8,166.2 L576.3,165.9 L576.8,165.6 L577.3,165.3 L577.9,165.0 L578.4,164.7 L578.9,164.3 L579.5,164.0 L580.0,163.6 L580.5,163.2 L580.9,162.8 L581.4,162.4 L581.8,161.9 L582.3,161.5 L582.7,161.0 L583.2,160.5 L583.6,160.1 L584.1,159.7 L584.5,159.3 L584.9,158.9 L585.4,158.5 L585.8,158.1 L586.3,157.7 L586.7,157.3 L587.2,157.0 L587.6,156.7 L588.1,156.5 L588.7,156.3 L589.3,156.1 L589.9,156.0 L590.4,156.0 L591.0,156.1 L591.5,156.3 L592.0,156.5 L592.5,156.8 L592.9,157.2 L593.4,157.6 L593.8,158.1 L594.1,158.5 L594.4,159.0 L594.7,159.5 L595.0,160.0 L595.2,160.5 L595.5,161.1 L595.7,161.7 L596.0,162.3 L596.2,162.9 L596.4,163.4 L596.6,164.0 L596.8,164.6 L597.0,165.2 L597.2,165.8 L597.4,166.5 L597.5,167.1 L597.7,167.7 L597.9,168.4 L598.1,169.1 L598.2,169.7 L598.4,170.4 L598.6,171.0 L598.8,171.6 L598.9,172.3 L599.1,172.9 L599.3,173.5 L599.5,174.2 L599.6,174.8 L599.8,175.5 L600.0,176.1 L600.1,176.7 L600.3,177.4 L600.5,178.0 L600.6,178.6 L600.8,179.3 L601.0,179.9 L601.2,180.5 L601.4,181.2 L601.6,181.8 L601.7,182.5 L601.9,183.1 L602.1,183.8 L602.3,184.4 L602.5,185.0 L602.7,185.6 L602.9,186.2 L603.1,186.8 L603.3,187.4 L603.5,188.0 L603.7,188.6 L603.9,189.2 L604.2,189.8 L604.4,190.4 L604.6,191.0 L604.8,191.6 L605.1,192.1 L605.3,192.7 L605.6,193.2 L605.9,193.7 L606.2,194.3 L606.6,194.9 L607.0,195.4 L607.4,196.0 L607.8,196.5 L608.2,197.0 L608.6,197.5 L609.1,197.9 L609.6,198.3 L610.2,198.7 L610.8,199.0 L611.4,199.3 L612.0,199.5 L612.6,199.7 L613.2,199.8 L613.8,199.8 L614.3,199.8 L614.9,199.7 L615.5,199.5 L616.0,199.3 L616.6,199.2 L617.2,199.0 L617.8,198.8 L618.4,198.7 L619.1,198.5 L619.7,198.3 L620.3,198.1 L621.0,197.9 L621.5,197.7 L622.1,197.4 L622.6,197.1 L623.1,196.8 L623.5,196.4 L623.9,196.1 L624.4,195.7 L624.9,195.3 L625.4,194.9 L625.8,194.6 L626.3,194.3 L626.8,193.9 L627.3,193.6 L627.9,193.2 L628.4,192.8 L629.0,192.4 L629.6,192.1 L630.1,191.7 L630.7,191.3 L631.3,190.9 L631.9,190.5 L632.4,190.2 L633.0,189.8 L633.5,189.4 L634.1,189.1 L634.7,188.7 L635.2,188.3 L635.8,188.0 L636.4,187.6 L636.9,187.2 L637.5,186.9 L638.0,186.5 L638.6,186.2 L639.1,185.9 L639.7,185.6 L640.2,185.3 L640.7,185.0 L641.3,184.7 L641.8,184.4 L642.4,184.2 L642.9,184.0 L643.4,183.7 L644.0,183.5 L644.5,183.4 L645.1,183.2 L645.7,183.0 L646.3,182.9 L646.9,182.7 L647.5,182.6 L648.1,182.5 L648.7,182.4 L649.4,182.3 L650.0,182.2 L650.7,182.1 L651.4,182.1 L652.0,182.0 L652.7,181.9 L653.4,181.8 L654.0,181.7 L654.6,181.6 L655.2,181.5 L655.8,181.5 L656.4,181.4 L657.0,181.3 L657.7,181.2 L658.3,181.1 L658.9,181.0 L659.6,180.9 L660.2,180.9 L660.9,180.8 L661.5,180.7 L662.2,180.6 L662.8,180.6 L663.5,180.5 L664.1,180.4 L664.7,180.4 L665.3,180.3 L665.9,180.3 L666.5,180.2 L667.1,180.2 L667.7,180.1 L668.3,180.1 L668.9,180.1 L669.5,180.0 L670.1,180.0 L670.8,180.0 L671.4,179.9 L672.1,179.9 L672.7,179.8 L673.4,179.8 L674.1,179.8 L674.8,179.8 L675.5,179.7 L676.2,179.7 L676.8,179.7 L677.3,179.7 L677.9,179.6 L678.4,179.6 L679.0,179.6 L679.6,179.6 L680.2,179.6 L680.7,179.6 L681.3,179.6 L681.9,179.5 L682.5,179.5 L683.1,179.5 L683.7,179.5 L684.3,179.5 L684.9,179.5 L685.5,179.5 L686.2,179.5 L686.8,179.5 L687.5,179.5 L688.1,179.5 L688.8,179.5 L689.4,179.5 L690.1,179.5 L690.8,179.5 L691.5,179.5 L692.2,179.4 L692.9,179.4 L693.7,179.4 L694.4,179.4 L695.2,179.4 L695.9,179.4 L696.7,179.4 L697.5,179.4 L698.3,179.4 L699.2,179.4 L700.0,179.4 L700.5,179.4 L701.0,179.4 L701.5,179.4 L702.0,179.4 L702.5,179.4 L703.0,179.4 L703.5,179.4 L704.0,179.4 L704.6,179.4 L705.1,179.4 L705.6,179.4 L706.2,179.4 L706.7,179.4 L707.3,179.4 L707.8,179.4 L708.4,179.3 L709.0,179.3 L709.6,179.3 L710.2,179.3 L710.7,179.3 L711.3,179.3 L711.9,179.3 L712.5,179.3 L713.1,179.3 L713.8,179.3 L714.4,179.3 L715.0,179.3 L715.6,179.3 L716.2,179.3 L716.9,179.3 L717.5,179.3 L718.1,179.3 L718.8,179.3 L719.4,179.3 L720.1,179.3 L720.7,179.3 L721.4,179.3 L722.1,179.3 L722.7,179.3 L723.4,179.3 L724.1,179.3 L724.7,179.3 L725.4,179.3 L726.1,179.3 L726.8,179.3 L727.5,179.3 L728.2,179.3 L728.8,179.3 L729.5,179.3 L730.2,179.3 L730.9,179.3 L731.6,179.3 L732.3,179.3 L733.0,179.3 L733.7,179.3 L734.4,179.3 L735.1,179.3 L735.9,179.3 L736.6,179.3 L737.3,179.3 L738.0,179.3 L738.7,179.3 L739.4,179.3 L740.1,179.3 L740.9,179.3 L741.6,179.3 L742.3,179.3 L743.0,179.3 L743.7,179.3 L744.5,179.3 L745.2,179.3 L745.9,179.3 L746.6,179.3 L747.4,179.3 L748.1,179.3 L748.8,179.3 L749.5,179.2 L750.3,179.2 L751.0,179.2 L751.7,179.2 L752.4,179.2 L753.1,179.2 L753.9,179.2 L754.6,179.2 L755.3,179.2 L756.0,179.2 L756.7,179.2 L757.5,179.2 L758.2,179.2 L758.9,179.2 L759.6,179.2 L760.3,179.2 L761.0,179.2 L761.7,179.2 L762.4,179.2 L763.1,179.2 L763.9,179.2 L764.6,179.2 L765.3,179.2 L766.0,179.2 L766.6,179.2 L767.3,179.2 L768.0,179.2 L768.7,179.2 L769.4,179.2 L770.1,179.2 L770.8,179.2 L771.5,179.2 L772.1,179.2 L772.8,179.2 L773.5,179.2 L774.1,179.2 L774.8,179.2"/>
<path stroke="#0000ff" d="M434.3,130.7 L435.0,130.7 L435.6,130.7 L436.3,130.7 L437.0,130.7 L437.7,130.7 L438.3,130.7 L439.0,130.7 L439.7,130.7 L440.4,130.7 L441.1,130.7 L441.8,130.7 L442.5,130.7 L443.2,130.7 L443.9,130.7 L444.6,130.7 L445.3,130.7 L446.0,130.7 L446.7,130.7 L447.4,130.7 L448.1,130.7 L448.8,130.7 L449.5,130.7 L450.2,130.7 L450.9,130.7 L451.6,130.7 L452.3,130.7 L453.1,130.7 L453.8,130.7 L454.5,130.7 L455.2,130.7 L455.9,130.7 L456.6,130.7 L457.3,130.7 L458.0,130.7 L458.7,130.7 L459.4,130.7 L460.0,130.7 L460.7,130.7 L461.4,130.7 L462.1,130.7 L462.8,130.7 L463.5,130.7 L464.1,130.7 L464.8,130.7 L465.5,130.7 L466.1,130.7 L466.8,130.7 L467.5,130.7 L468.1,130.7 L468.8,130.7 L469.4,130.7 L470.0,130.7 L470.7,130.7 L471.3,130.7 L471.9,130.7 L472.5,130.7 L473.2,130.7 L473.8,130.7 L474.4,130.6 L475.0,130.6 L475.5,130.6 L476.1,130.6 L476.7,130.6 L477.3,130.6 L477.8,130.6 L478.4,130.6 L478.9,130.6 L479.5,130.6 L480.0,130.6 L480.8,130.6 L481.5,130.6 L482.2,130.6 L483.0,130.6 L483.7,130.6 L484.4,130.5 L485.0,130.5 L485.7,130.5 L486.3,130.5 L487.0,130.5 L487.6,130.5 L488.2,130.5 L488.8,130.4 L489.5,130.4 L490.1,130.4 L490.7,130.4 L491.3,130.4 L491.9,130.4 L492.5,130.4 L493.1,130.3 L493.7,130.3 L494.3,130.3 L494.9,130.3 L495.5,130.3 L496.1,130.3 L496.7,130.3 L497.4,130.3 L498.0,130.2 L498.7,130.2 L499.3,130.2 L500.0,130.2 L500.6,130.2 L501.3,130.2 L501.9,130.2 L502.5,130.2 L503.2,130.2 L503.9,130.1 L504.5,130.1 L505.2,130.1 L505.9,130.1 L506.5,130.1 L507.2,130.1 L507.9,130.1 L508.6,130.1 L509.3,130.1 L510.0,130.1 L510.7,130.1 L511.3,130.1 L512.0,130.1 L512.7,130.1 L513.4,130.0 L514.1,130.0 L514.8,130.0 L515.5,130.0 L516.1,130.0 L516.8,130.0 L517.5,130.0 L518.1,130.0 L518.8,130.0 L519.5,130.0 L520.1,129.9 L520.7,129.9 L521.4,129.9 L522.0,129.9 L522.6,129.9 L523.2,129.9 L523.8,129.8 L524.4,129.8 L525.0,129.8 L525.7,129.8 L526.5,129.7 L527.2,129.7 L527.9,129.7 L528.6,129.6 L529.3,129.6 L530.0,129.6 L530.7,129.5 L531.3,129.5 L532.0,129.4 L532.7,129.4 L533.3,129.4 L534.0,129.3 L534.6,129.3 L535.2,129.2 L535.9,129.2 L536.5,129.1 L537.1,129.1 L537.7,129.1 L538.3,129.0 L538.9,129.0 L539.4,128.9 L540.0,128.9 L540.7,128.9 L541.4,128.8 L542.0,128.8 L542.7,128.7 L543.3,128.7 L543.9,128.6 L544.5,128.6 L545.2,128.6 L545.8,128.5 L546.4,128.5 L547.0,128.4 L547.6,128.4 L548.2,128.3 L548.8,128.3 L549.4,128.3 L550.1,128.2 L550.7,128.2 L551.3,128.1 L551.9,128.1 L552.6,128.1 L553.2,128.0 L553.8,128.0 L554.5,127.9 L555.1,127.9 L555.7,127.8 L556.4,127.7 L557.0,127.6 L557.6,127.5 L558.2,127.4 L558.8,127.2 L559.4,127.1 L560.0,126.9 L560.6,126.7 L561.2,126.5 L561.8,126.3 L562.4,126.1 L563.0,125.9 L563.6,125.7 L564.1,125.5 L564.7,125.3 L565.3,125.0 L565.9,124.8 L566.5,124.6 L567.1,124.4 L567.7,124.1 L568.3,123.9 L568.9,123.7 L569.5,123.4 L570.1,123.2 L570.7,122.9 L571.3,122.7 L571.9,122.4 L572.4,122.2 L573.0,121.9 L573.6,121.7 L574.2,121.4 L574.7,121.2 L575.3,120.9 L575.9,120.6 L576.5,120.3 L577.1,120.1 L577.7,119.8 L578.3,119.5 L578.8,119.2 L579.4,118.9 L580.0,118.6 L580.5,118.3 L581.1,118.0 L581.6,117.7 L582.1,117.5 L582.6,117.2 L583.2,116.8 L583.8,116.5 L584.4,116.1 L585.0,115.8 L585.5,115.4 L586.1,115.1 L586.6,114.8 L587.1,114.6 L587.7,114.3 L588.3,114.1 L588.9,113.9 L589.4,113.8 L590.0,113.8 L590.6,113.9 L591.2,114.2 L591.8,114.5 L592.3,114.9 L592.9,115.3 L593.3,115.7 L593.7,116.0 L594.1,116.5 L594.5,116.9 L594.8,117.4 L595.2,117.9 L595.6,118.4 L595.9,119.0 L596.2,119.5 L596.4,120.1 L596.7,120.6 L596.9,121.2 L597.2,121.8 L597.4,122.5 L597.6,123.1 L597.9,123.8 L598.1,124.4 L598.3,125.0 L598.6,125.7 L598.8,126.3 L599.0,126.9 L599.3,127.5 L599.5,128.2 L599.8,128.8 L600.0,129.4 L600.3,130.1 L600.5,130.7 L600.8,131.3 L601.0,131.9 L601.3,132.5 L601.5,133.1 L601.8,133.7 L602.1,134.3 L602.3,134.9 L602.6,135.5 L602.9,136.1 L603.1,136.6 L603.4,137.2 L603.7,137.7 L604.0,138.2 L604.3,138.7 L604.7,139.1 L605.2,139.6 L605.7,140.1 L606.2,140.5 L606.8,140.9 L607.3,141.3 L607.9,141.6 L608.4,141.8 L609.0,142.0 L609.6,142.1 L610.2,142.1 L610.8,142.1 L611.5,142.1 L612.1,142.0 L612.6,142.0 L613.2,141.8 L613.9,141.7 L614.5,141.5 L615.1,141.3 L615.8,141.1 L616.5,140.8 L617.0,140.6 L617.5,140.4 L618.0,140.1 L618.6,139.8 L619.1,139.5 L619.7,139.2 L620.3,138.9 L620.8,138.5 L621.4,138.2 L622.0,137.9 L622.6,137.5 L623.2,137.2 L623.7,136.9 L624.3,136.6 L624.9,136.3 L625.4,136.0 L626.0,135.7 L626.6,135.4 L627.2,135.2 L627.7,134.9 L628.3,134.6 L628.9,134.4 L629.5,134.1 L630.0,133.9 L630.6,133.6 L631.2,133.4 L631.8,133.2 L632.4,133.0 L633.0,132.8 L633.6,132.6 L634.2,132.4 L634.8,132.3 L635.4,132.1 L636.1,132.0 L636.7,131.8 L637.3,131.7 L637.9,131.6 L638.6,131.4 L639.2,131.3 L639.9,131.2 L640.6,131.1 L641.2,131.0 L641.9,130.9 L642.5,130.8 L643.1,130.7 L643.7,130.7 L644.3,130.6 L644.9,130.6 L645.5,130.5 L646.2,130.5 L646.8,130.4 L647.4,130.4 L648.1,130.3 L648.7,130.3 L649.4,130.2 L650.0,130.2 L650.7,130.2 L651.3,130.1 L652.0,130.1 L652.7,130.0 L653.4,130.0 L654.0,130.0 L654.6,129.9 L655.2,129.9 L655.8,129.8 L656.4,129.8 L657.0,129.7 L657.7,129.7 L658.3,129.7 L658.9,129.6 L659.5,129.6 L660.2,129.5 L660.8,129.5 L661.5,129.4 L662.1,129.4 L662.8,129.3 L663.5,129.3 L664.2,129.3 L664.8,129.2 L665.5,129.2 L666.2,129.2 L666.9,129.1 L667.7,129.1 L668.4,129.1 L669.1,129.0 L669.9,129.0 L670.5,129.0 L671.0,129.0 L671.6,128.9 L672.1,128.9 L672.7,128.9 L673.3,128.9 L673.9,128.9 L674.4,128.9 L675.0,128.9 L675.6,128.9 L676.2,128.8 L676.8,128.8 L677.4,128.8 L678.0,128.8 L678.6,128.8 L679.2,128.8 L679.8,128.8 L680.4,128.8 L681.0,128.8 L681.6,128.8 L682.3,128.8 L682.9,128.8 L683.5,128.8 L684.2,128.8 L684.8,128.8 L685.5,128.8 L686.2,128.8 L686.8,128.7 L687.5,128.7 L688.2,128.7 L688.9,128.7 L689.6,128.7 L690.3,128.7 L691.0,128.7 L691.7,128.7 L692.4,128.7 L693.1,128.7 L693.9,128.7 L694.6,128.7 L695.3,128.7 L696.1,128.7 L696.9,128.7 L697.6,128.7 L698.4,128.7 L699.2,128.7 L700.0,128.7 L700.5,128.7 L701.0,128.7 L701.6,128.7 L702.1,128.7 L702.6,128.7 L703.2,128.7 L703.7,128.7 L704.3,128.7 L704.8,128.7 L705.4,128.7 L706.0,128.7 L706.5,128.7 L707.1,128.7 L707.7,128.7 L708.3,128.7 L708.8,128.7 L709.4,128.7 L710.0,128.7 L710.6,128.7 L711.2,128.7 L711.8,128.7 L712.4,128.7 L713.1,128.7 L713.7,128.6 L714.3,128.6 L714.9,128.6 L715.6,128.6 L716.2,128.6 L716.8,128.6 L717.5,128.6 L718.1,128.6 L718.7,128.6 L719.4,128.6 L720.0,128.6 L720.7,128.6 L721.4,128.6 L722.0,128.6 L722.7,128.6 L723.3,128.6 L724.0,128.6 L724.7,128.6 L725.3,128.6 L726.0,128.6 L726.7,128.6 L727.4,128.6 L728.1,128.6 L728.7,128.6 L729.4,128.6 L730.1,128.6 L730.8,128.6 L731.5,128.6 L732.2,128.6 L732.9,128.6 L733.6,128.6 L734.3,128.6 L735.0,128.6 L735.7,128.6 L736.4,128.6 L737.1,128.6 L737.8,128.6 L738.5,128.6 L739.2,128.6 L739.9,128.6 L740.6,128.6 L741.3,128.6 L742.0,128.6 L742.7,128.6 L743.4,128.6 L744.1,128.6 L744.8,128.6 L745.5,128.6 L746.3,128.6 L747.0,128.6 L747.7,128.6 L748.4,128.6 L749.1,128.6 L749.8,128.6 L750.5,128.6 L751.2,128.6 L751.9,128.6 L752.7,128.6 L753.4,128.6 L754.1,128.6 L754.8,128.6 L755.5,128.6 L756.2,128.6 L756.9,128.6 L757.6,128.6 L758.3,128.6 L759.0,128.6 L759.7,128.6 L760.4,128.6 L761.1,128.6 L761.8,128.6 L762.5,128.6 L763.2,128.6 L763.9,128.6 L764.6,128.6 L765.3,128.6 L766.0,128.6 L766.7,128.6 L767.4,128.6 L768.1,128.6 L768.7,128.6 L769.4,128.6 L770.1,128.6 L770.8,128.6 L771.5,128.6 L772.1,128.6 L772.8,128.6 L773.5,128.6 L774.1,128.6 L774.8,128.6"/>
<path stroke="#ff00ff" d="M434.2,78.9 L434.9,78.9 L435.5,78.9 L436.2,78.9 L436.8,78.9 L437.5,78.9 L438.1,78.9 L438.8,78.9 L439.4,78.9 L440.1,78.9 L440.7,78.9 L441.4,78.9 L442.0,78.9 L442.7,78.9 L443.3,78.9 L443.9,78.9 L444.6,78.9 L445.2,78.9 L445.8,78.9 L446.5,78.9 L447.1,78.9 L447.8,78.9 L448.4,78.9 L449.0,78.9 L449.7,78.9 L450.3,78.9 L451.0,78.9 L451.6,78.9 L452.3,78.9 L452.9,78.9 L453.6,78.9 L454.2,78.9 L454.9,78.9 L455.5,78.9 L456.2,78.9 L456.8,78.9 L457.5,78.9 L458.2,78.9 L458.8,78.9 L459.5,78.9 L460.2,78.9 L460.9,78.9 L461.5,78.9 L462.2,78.9 L462.9,78.9 L463.6,78.9 L464.3,78.9 L465.0,78.9 L465.7,78.9 L466.4,78.9 L467.1,78.9 L467.8,78.9 L468.5,78.9 L469.3,78.9 L470.0,78.9 L470.6,78.9 L471.2,78.9 L471.8,78.9 L472.4,78.9 L473.1,78.9 L473.7,78.9 L474.3,78.9 L475.0,78.9 L475.6,78.9 L476.3,78.9 L477.0,78.8 L477.6,78.8 L478.3,78.8 L479.0,78.8 L479.7,78.8 L480.4,78.8 L481.1,78.8 L481.8,78.8 L482.5,78.8 L483.2,78.8 L483.9,78.8 L484.6,78.8 L485.3,78.8 L486.1,78.7 L486.8,78.7 L487.5,78.7 L488.3,78.7 L489.0,78.7 L489.7,78.7 L490.5,78.7 L491.2,78.7 L491.9,78.7 L492.7,78.7 L493.4,78.7 L494.1,78.6 L494.9,78.6 L495.6,78.6 L496.4,78.6 L497.1,78.6 L497.8,78.6 L498.6,78.6 L499.3,78.6 L500.0,78.6 L500.7,78.6 L501.5,78.5 L502.2,78.5 L502.9,78.5 L503.6,78.5 L504.4,78.5 L505.1,78.5 L505.8,78.5 L506.5,78.5 L507.2,78.5 L507.9,78.5 L508.6,78.5 L509.2,78.4 L509.9,78.4 L510.6,78.4 L511.3,78.4 L511.9,78.4 L512.6,78.4 L513.2,78.4 L513.9,78.4 L514.5,78.4 L515.2,78.4 L515.8,78.4 L516.4,78.4 L517.0,78.4 L517.6,78.3 L518.2,78.3 L518.8,78.3 L519.3,78.3 L519.9,78.3 L520.5,78.3 L521.0,78.3 L521.5,78.3 L522.1,78.3 L522.6,78.3 L523.1,78.3 L523.6,78.3 L524.1,78.3 L524.5,78.3 L525.0,78.3 L525.8,78.3 L526.7,78.3 L527.5,78.3 L528.2,78.3 L529.0,78.3 L529.7,78.3 L530.4,78.3 L531.1,78.4 L531.7,78.4 L532.4,78.4 L533.0,78.4 L533.6,78.4 L534.3,78.4 L534.9,78.4 L535.4,78.4 L536.0,78.4 L536.6,78.4 L537.2,78.4 L537.7,78.4 L538.3,78.4 L538.9,78.4 L539.4,78.4 L540.0,78.4 L540.7,78.4 L541.4,78.3 L542.0,78.3 L542.7,78.3 L543.3,78.2 L543.9,78.2 L544.5,78.1 L545.1,78.1 L545.7,78.0 L546.3,78.0 L546.9,77.9 L547.5,77.9 L548.2,77.8 L548.8,77.8 L549.4,77.8 L550.1,77.7 L550.7,77.7 L551.4,77.7 L552.0,77.6 L552.7,77.6 L553.3,77.6 L554.0,77.5 L554.7,77.5 L555.3,77.5 L556.0,77.4 L556.6,77.4 L557.3,77.3 L557.9,77.3 L558.5,77.2 L559.1,77.1 L559.8,77.0 L560.4,76.9 L561.0,76.8 L561.6,76.6 L562.3,76.5 L562.9,76.3 L563.5,76.2 L564.0,76.0 L564.6,75.9 L565.3,75.7 L565.9,75.5 L566.5,75.3 L567.1,75.1 L567.6,74.9 L568.2,74.7 L568.8,74.5 L569.4,74.3 L570.0,74.1 L570.6,73.8 L571.2,73.6 L571.8,73.4 L572.4,73.1 L572.9,72.9 L573.5,72.6 L574.1,72.4 L574.7,72.1 L575.3,71.9 L575.9,71.6 L576.5,71.4 L577.1,71.1 L577.7,70.8 L578.3,70.6 L578.9,70.3 L579.5,70.0 L580.2,69.7 L580.7,69.4 L581.3,69.2 L581.9,68.9 L582.5,68.6 L583.0,68.4 L583.6,68.1 L584.1,67.9 L584.7,67.6 L585.4,67.3 L586.0,67.0 L586.6,66.7 L587.2,66.4 L587.8,66.2 L588.3,65.9 L588.8,65.8 L589.3,65.6 L589.9,65.4 L590.4,65.3 L591.0,65.3 L591.5,65.3 L592.1,65.4 L592.7,65.6 L593.3,65.8 L593.8,66.1 L594.4,66.5 L594.8,66.9 L595.2,67.3 L595.6,67.7 L596.0,68.2 L596.3,68.7 L596.7,69.3 L597.1,69.8 L597.4,70.4 L597.7,70.9 L598.0,71.4 L598.3,72.0 L598.6,72.5 L598.8,73.1 L599.1,73.7 L599.4,74.2 L599.7,74.8 L599.9,75.4 L600.2,76.0 L600.5,76.6 L600.7,77.2 L601.0,77.8 L601.2,78.4 L601.5,79.0 L601.7,79.6 L602.0,80.2 L602.2,80.8 L602.5,81.4 L602.7,82.0 L603.0,82.5 L603.3,83.1 L603.7,83.7 L604.0,84.3 L604.3,84.8 L604.7,85.4 L605.0,85.9 L605.4,86.4 L605.8,86.8 L606.2,87.2 L606.6,87.6 L607.1,88.0 L607.6,88.4 L608.0,88.7 L608.5,89.0 L609.0,89.2 L609.5,89.4 L610.1,89.6 L610.7,89.7 L611.3,89.8 L611.9,89.9 L612.5,89.9 L613.0,89.9 L613.6,89.8 L614.2,89.7 L614.7,89.6 L615.3,89.4 L615.9,89.2 L616.6,89.0 L617.2,88.8 L617.8,88.6 L618.3,88.4 L618.9,88.2 L619.5,87.9 L620.1,87.7 L620.6,87.4 L621.2,87.1 L621.8,86.8 L622.4,86.5 L623.0,86.2 L623.6,85.9 L624.2,85.6 L624.8,85.4 L625.4,85.1 L626.0,84.9 L626.6,84.6 L627.1,84.4 L627.7,84.1 L628.3,83.9 L628.9,83.7 L629.5,83.4 L630.1,83.2 L630.6,83.0 L631.2,82.8 L631.8,82.6 L632.4,82.4 L633.0,82.2 L633.6,82.0 L634.3,81.8 L634.9,81.6 L635.6,81.4 L636.2,81.2 L636.8,81.1 L637.5,80.9 L638.1,80.7 L638.8,80.6 L639.4,80.5 L640.1,80.3 L640.7,80.2 L641.3,80.1 L642.0,80.0 L642.6,79.9 L643.2,79.8 L643.8,79.8 L644.5,79.7 L645.1,79.7 L645.7,79.6 L646.4,79.6 L647.0,79.5 L647.6,79.5 L648.3,79.4 L648.9,79.3 L649.5,79.3 L650.1,79.2 L650.7,79.2 L651.4,79.1 L652.0,79.1 L652.6,79.0 L653.2,79.0 L653.9,78.9 L654.5,78.9 L655.2,78.8 L655.8,78.8 L656.5,78.7 L657.2,78.7 L657.8,78.7 L658.4,78.6 L658.9,78.6 L659.5,78.6 L660.1,78.6 L660.7,78.6 L661.3,78.5 L661.9,78.5 L662.5,78.5 L663.1,78.5 L663.7,78.5 L664.3,78.5 L665.0,78.5 L665.6,78.5 L666.3,78.4 L667.0,78.4 L667.7,78.4 L668.4,78.4 L669.1,78.4 L669.9,78.4 L670.4,78.4 L670.9,78.4 L671.5,78.4 L672.0,78.4 L672.6,78.4 L673.2,78.4 L673.7,78.4 L674.3,78.4 L674.9,78.4 L675.5,78.3 L676.1,78.3 L676.7,78.3 L677.3,78.3 L677.9,78.3 L678.6,78.3 L679.2,78.3 L679.8,78.3 L680.5,78.3 L681.1,78.3 L681.8,78.3 L682.4,78.3 L683.1,78.3 L683.8,78.3 L684.4,78.3 L685.1,78.3 L685.8,78.3 L686.5,78.3 L687.2,78.3 L687.9,78.3 L688.6,78.3 L689.3,78.3 L690.0,78.3 L690.7,78.3 L691.4,78.3 L692.1,78.3 L692.8,78.3 L693.5,78.3 L694.2,78.3 L695.0,78.3 L695.7,78.3 L696.4,78.3 L697.1,78.3 L697.8,78.3 L698.6,78.3 L699.3,78.3 L700.0,78.3 L700.6,78.3 L701.2,78.3 L701.8,78.3 L702.4,78.3 L703.0,78.3 L703.7,78.3 L704.3,78.3 L704.9,78.3 L705.6,78.3 L706.2,78.3 L706.9,78.3 L707.5,78.3 L708.2,78.3 L708.8,78.3 L709.5,78.3 L710.2,78.3 L710.8,78.3 L711.5,78.3 L712.2,78.3 L712.9,78.3 L713.5,78.3 L714.2,78.3 L714.9,78.3 L715.6,78.3 L716.3,78.3 L717.0,78.3 L717.7,78.3 L718.3,78.3 L719.0,78.3 L719.7,78.3 L720.4,78.3 L721.1,78.3 L721.8,78.3 L722.5,78.3 L723.2,78.3 L723.9,78.3 L724.6,78.3 L725.3,78.3 L726.0,78.3 L726.7,78.3 L727.4,78.3 L728.1,78.3 L728.7,78.3 L729.4,78.3 L730.1,78.3 L730.8,78.3 L731.5,78.3 L732.2,78.3 L732.8,78.3 L733.5,78.3 L734.2,78.3 L734.9,78.3 L735.5,78.3 L736.2,78.3 L736.8,78.3 L737.5,78.3 L738.1,78.3 L738.8,78.3 L739.4,78.3 L740.1,78.3 L740.7,78.3 L741.3,78.3 L742.0,78.3 L742.6,78.3 L743.2,78.3 L743.8,78.3 L744.4,78.3 L745.0,78.3 L745.7,78.3 L746.4,78.3 L747.2,78.3 L747.9,78.3 L748.6,78.3 L749.3,78.3 L750.0,78.3 L750.7,78.3 L751.4,78.3 L752.0,78.3 L752.7,78.3 L753.4,78.3 L754.1,78.3 L754.7,78.3 L755.4,78.3 L756.0,78.3 L756.7,78.3 L757.4,78.3 L758.0,78.3 L758.7,78.3 L759.3,78.3 L760.0,78.3 L760.6,78.3 L761.2,78.3 L761.9,78.2 L762.5,78.2 L763.2,78.2 L763.8,78.2 L764.5,78.2 L765.1,78.2 L765.7,78.2 L766.4,78.2 L767.0,78.2 L767.7,78.2 L768.3,78.2 L768.9,78.2 L769.6,78.2 L770.2,78.2 L770.9,78.2 L771.5,78.2 L772.2,78.2 L772.8,78.2 L773.5,78.2 L774.1,78.2 L774.8,78.2"/>
</g>
<g stroke="#000" stroke-width="2" fill="none" stroke-linecap="square">
<line x1="12.3" y1="291.0" x2="366.0" y2="291.0"/>
<line x1="423.4" y1="289.0" x2="774.7" y2="289.0"/>
</g>
<g stroke="#000" stroke-width="1.9" fill="none">
<line x1="12.30" y1="291.0" x2="12.30" y2="297.0"/>
<line x1="41.77" y1="291.0" x2="41.77" y2="294.5"/>
<line x1="71.25" y1="291.0" x2="71.25" y2="297.0"/>
<line x1="100.72" y1="291.0" x2="100.72" y2="294.5"/>
<line x1="130.20" y1="291.0" x2="130.20" y2="297.0"/>
<line x1="159.68" y1="291.0" x2="159.68" y2="294.5"/>
<line x1="189.15" y1="291.0" x2="189.15" y2="297.0"/>
<line x1="218.62" y1="291.0" x2="218.62" y2="294.5"/>
<line x1="248.10" y1="291.0" x2="248.10" y2="297.0"/>
<line x1="277.57" y1="291.0" x2="277.57" y2="294.5"/>
<line x1="307.05" y1="291.0" x2="307.05" y2="297.0"/>
<line x1="336.52" y1="291.0" x2="336.52" y2="294.5"/>
<line x1="366.00" y1="291.0" x2="366.00" y2="297.0"/>
<line x1="423.40" y1="289.0" x2="423.40" y2="295.0"/>
<line x1="452.67" y1="289.0" x2="452.67" y2="292.5"/>
<line x1="481.95" y1="289.0" x2="481.95" y2="295.0"/>
<line x1="511.23" y1="289.0" x2="511.23" y2="292.5"/>
<line x1="540.50" y1="289.0" x2="540.50" y2="295.0"/>
<line x1="569.77" y1="289.0" x2="569.77" y2="292.5"/>
<line x1="599.05" y1="289.0" x2="599.05" y2="295.0"/>
<line x1="628.33" y1="289.0" x2="628.33" y2="292.5"/>
<line x1="657.60" y1="289.0" x2="657.60" y2="295.0"/>
<line x1="686.88" y1="289.0" x2="686.88" y2="292.5"/>
<line x1="716.15" y1="289.0" x2="716.15" y2="295.0"/>
<line x1="745.43" y1="289.0" x2="745.43" y2="292.5"/>
<line x1="774.70" y1="289.0" x2="774.70" y2="295.0"/>
</g>
<g font-weight="bold" font-size="14.5" text-anchor="middle" fill="#000">
<text transform="translate(12.30,311) scale(0.96,1)">310</text>
<text transform="translate(71.25,311) scale(0.96,1)">315</text>
<text transform="translate(130.20,311) scale(0.96,1)">320</text>
<text transform="translate(189.15,311) scale(0.96,1)">325</text>
<text transform="translate(248.10,311) scale(0.96,1)">330</text>
<text transform="translate(307.05,311) scale(0.96,1)">335</text>
<text transform="translate(366.00,311) scale(0.96,1)">340</text>
<text transform="translate(423.40,308.5) scale(0.96,1)">310</text>
<text transform="translate(481.95,308.5) scale(0.96,1)">315</text>
<text transform="translate(540.50,308.5) scale(0.96,1)">320</text>
<text transform="translate(599.05,308.5) scale(0.96,1)">325</text>
<text transform="translate(657.60,308.5) scale(0.96,1)">330</text>
<text transform="translate(716.15,308.5) scale(0.96,1)">335</text>
<text transform="translate(774.70,308.5) scale(0.96,1)">340</text>
</g>
<g font-weight="bold" text-anchor="middle" fill="#000">
<text font-size="21" transform="translate(189.3,334.2) scale(0.9725,1)">Magnetic field (mT)</text>
<text font-size="21.8" transform="translate(598.8,333.6) scale(0.9545,1)">Magnetic field (mT)</text>
</g>
<g font-weight="bold" font-size="16.9" fill="#000" text-anchor="middle">
<text transform="translate(32.8,23.8) scale(0.97,1)">(a)</text>
<text transform="translate(443.4,23.8) scale(0.99,1)">(b)</text>
</g>
<g stroke-width="2" fill="none">
<line x1="296.2" y1="5.2" x2="320.5" y2="5.2" stroke="#008000"/>
<line x1="296.2" y1="17.9" x2="320.5" y2="17.9" stroke="#ff00ff"/>
<line x1="296.2" y1="30.8" x2="320.5" y2="30.8" stroke="#0000ff"/>
<line x1="296.2" y1="43.6" x2="320.5" y2="43.6" stroke="#ff0000"/>
<line x1="296.2" y1="56.3" x2="320.5" y2="56.3" stroke="#000"/>
<line x1="684" y1="8.3" x2="708.2" y2="8.3" stroke="#ff00ff"/>
<line x1="684" y1="22.4" x2="708.2" y2="22.4" stroke="#0000ff"/>
<line x1="684" y1="36.7" x2="708.2" y2="36.7" stroke="#ff0000"/>
<line x1="684" y1="51.1" x2="708.2" y2="51.1" stroke="#000"/>
</g>
<g font-size="10" fill="#000">
<text x="322.4" y="8.7">1500 kGy</text>
<text x="322.4" y="21.3">1000 kGy</text>
<text x="327.9" y="33.9">500 kGy</text>
<text x="327.9" y="46.5">200 kGy</text>
<text x="336.3" y="59.1">0 kGy</text>
<text x="710.4" y="11.7">100 <tspan font-size="6" dy="-4.6">o</tspan><tspan dy="4.6">C 30 min</tspan></text>
<text x="710.4" y="25.8">100 <tspan font-size="6" dy="-4.6">o</tspan><tspan dy="4.6">C 20 min</tspan></text>
<text x="710.4" y="40.0">100 <tspan font-size="6" dy="-4.6">o</tspan><tspan dy="4.6">C 10 min</tspan></text>
<text x="716.0" y="54.2">25 <tspan font-size="6" dy="-4.6">o</tspan><tspan dy="4.6">C</tspan></text>
</g>
</svg>
</body></html>
